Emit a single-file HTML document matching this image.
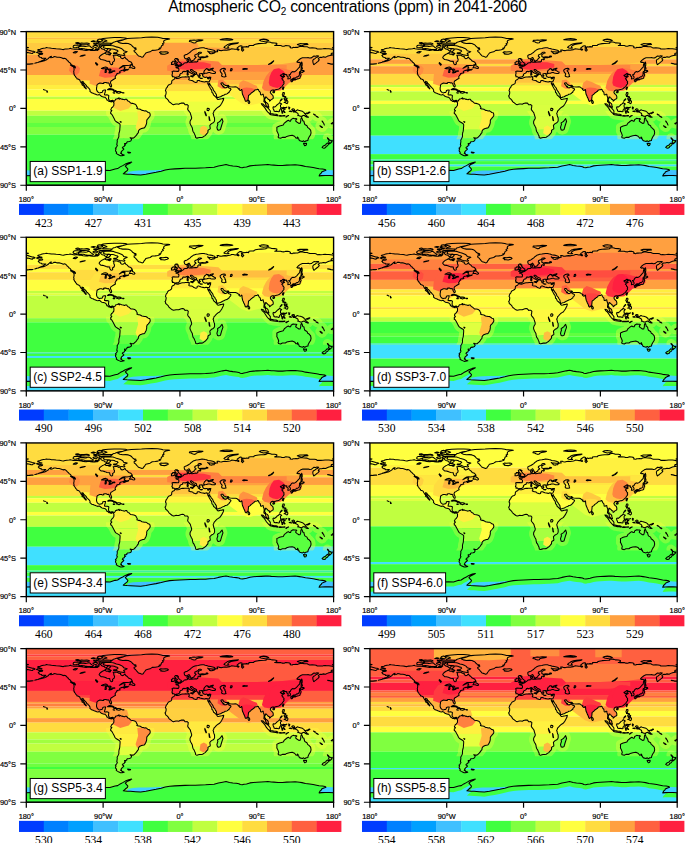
<!DOCTYPE html>
<html><head><meta charset="utf-8"><style>
html,body{margin:0;padding:0;background:#fff;width:685px;height:843px;overflow:hidden}
svg text{font-family:"Liberation Sans",sans-serif}
.ax{font-size:7.4px;fill:#000;stroke:#000;stroke-width:0.18px}
.pl{font-size:12.0px;fill:#000}
.cb{font-family:"Liberation Serif",serif !important;font-size:11.6px;fill:#000}
.title{font-size:15.8px;letter-spacing:-0.25px;fill:#000}
</style></head><body>
<svg width="685" height="843" viewBox="0 0 685 843" style="display:block">
<defs>
<clipPath id="lc"><path id="landp" d="M-168,-65.6 -166.5,-66.3 -164.5,-66.6 -162.5,-66.1 -161.6,-66.5 -163.8,-67.2 -165.5,-67.9 -166.7,-68.3 -166.2,-68.9 -163.5,-69.4 -162.5,-70 -160,-70.6 -157.5,-70.9 -156.6,-71.3 -155,-71 -152.5,-70.8 -150.5,-70.4 -148,-70.3 -145,-70 -141,-69.7 -138.5,-69.2 -136.5,-68.9 -134.5,-69.5 -132.5,-69.7 -130,-70 -128,-70.4 -127.2,-70 -125,-69.5 -123.5,-69.4 -121,-69.7 -118,-69.1 -115.5,-68.9 -113.5,-68.4 -110,-68 -108,-68.2 -106.5,-68.6 -104.5,-68 -102,-67.8 -99.5,-67.8 -98,-68.3 -96.5,-68 -95.5,-68.9 -94.5,-69.8 -95.5,-71 -94.5,-71.9 -93,-71.5 -92,-70.2 -91,-69.5 -88.5,-68.9 -88,-68 -86.5,-67.3 -85,-68.5 -85,-69.8 -83,-70 -81.5,-69.3 -81.3,-68.5 -82.5,-67.5 -83.5,-66.5 -85.7,-66.5 -86.5,-66 -87.5,-65.2 -89.5,-64 -90.8,-63.5 -92.5,-62.3 -94,-61 -94.7,-59.5 -94.2,-58.8 -92.5,-57.2 -90.5,-57.1 -88,-56.4 -85.5,-55.3 -82.3,-55.1 -82.2,-53.5 -81.5,-52.3 -80.5,-51.3 -79.3,-51.6 -78.7,-52.5 -79,-54 -77,-55.5 -76.6,-57.5 -77.5,-59 -77.4,-60.5 -78.2,-62.2 -76,-62.4 -73.5,-62.3 -71.5,-61.2 -69.5,-61 -69.5,-59.5 -67.8,-58.3 -66,-58.8 -64.5,-60.3 -63.5,-58.5 -61.7,-57.3 -60.2,-55.5 -57.5,-54.5 -56,-52.6 -57,-51.5 -59,-50.6 -62,-50.2 -64.5,-50.3 -66.5,-50.2 -68.5,-49 -70,-47.8 -71,-47 -69,-48 -67,-49.1 -64.5,-48.9 -64.3,-48 -65.3,-47.2 -64.6,-46.2 -63,-45.8 -61.5,-45.6 -60,-46 -61,-45.1 -63.5,-44.6 -65.5,-43.6 -66.2,-44.2 -64.5,-45.3 -66,-45.2 -67.2,-44.6 -68.8,-44.3 -70.2,-43.6 -70.8,-42.6 -70,-41.8 -71,-41.5 -72.5,-41.3 -74,-40.7 -74.1,-39.6 -75,-38.8 -75.4,-38 -76,-37 -75.5,-35.2 -76.5,-34.7 -78,-33.8 -79.3,-33 -80.7,-32.2 -81.4,-30.7 -81.2,-29.5 -80.5,-28 -80,-26.5 -80.4,-25.2 -81.2,-25.2 -81.8,-26.1 -82.7,-27.7 -82.8,-29 -84,-30 -85.3,-29.7 -86.5,-30.4 -88,-30.4 -89.5,-30.2 -89.2,-29.2 -90.5,-29.1 -92,-29.6 -93.8,-29.7 -95,-29.2 -96.8,-28.2 -97.3,-27 -97.4,-25.5 -97.7,-24 -97.7,-22.2 -97.2,-20.6 -96.2,-19.2 -95,-18.5 -94.3,-18.2 -92.5,-18.6 -91.3,-18.7 -90.5,-19.8 -90.4,-21 -88.5,-21.5 -87,-21.5 -87.5,-20 -87.6,-19 -88.2,-17.5 -88.4,-16 -87.5,-15.8 -85.5,-15.9 -84,-15.5 -83.3,-15 -83.6,-13 -83.7,-11.5 -83.4,-10.5 -82.3,-9.3 -81,-8.9 -80,-9.3 -79,-9.5 -77.5,-8.7 -76.8,-8.5 -76,-9.4 -75.5,-10.5 -74.8,-11 -73.3,-11.3 -72.2,-11.9 -71.3,-12.4 -71.8,-11.5 -71,-10.8 -70.2,-11.6 -69.5,-11.5 -68.3,-10.9 -66.5,-10.6 -65,-10.1 -63.8,-10.7 -62.4,-10.7 -62,-10 -60.9,-8.6 -59.8,-8.3 -58.5,-7 -57.5,-6.1 -55.5,-5.9 -54,-5.6 -52.5,-5 -51.5,-4.2 -51,-3 -50.3,-1.8 -49.9,-1 -50.5,-0 -48.8,0.7 -48,0.7 -46.5,1 -44.5,2.3 -43,2.5 -41.5,2.9 -40,2.8 -38.5,3.7 -37.2,4.8 -35.5,5.2 -35,6.5 -34.8,7.8 -35.2,9.2 -36.3,10.5 -37.3,11.7 -38.5,13 -39,14.5 -38.9,16 -39.2,17.7 -39.7,19.5 -40.3,20.5 -41,22 -42,23 -43.5,23.1 -45,23.6 -46.8,24.3 -48,25.5 -48.6,26.5 -48.7,28.3 -49.8,29.5 -50.7,31 -52,32.5 -53.4,33.8 -54.2,34.6 -55.5,34.8 -56.8,34.6 -58.4,34.3 -57.2,35.5 -56.7,36.4 -57.5,38 -59,38.7 -61.5,39 -62.3,39.8 -62.2,40.6 -63.5,41.1 -65,41 -64.6,42.3 -63.6,42.7 -64.8,43 -65.3,44.5 -66.8,45.1 -67.5,46.2 -66,47.2 -65.8,47.9 -67.3,49.2 -68.4,50.2 -69.1,51.6 -68.4,52.4 -69.5,52.6 -68.6,53 -67.5,54 -65.3,54.7 -66.5,55 -68,55.3 -69.5,55.4 -71.5,54.5 -73,53.8 -74.6,52.7 -74.2,51.5 -75.3,50 -75.5,48.6 -74.8,47.5 -75.6,46.6 -74.5,45.5 -73.8,44.3 -73.3,43.2 -74,42.5 -73.8,41.2 -73.6,40 -73.4,38.5 -73.6,37.2 -72.7,35.6 -71.8,33.9 -71.5,32.5 -71.6,30.5 -71.3,28.5 -70.8,27 -70.5,25.5 -70.4,23.5 -70.2,21.5 -70.1,19.5 -70.3,18.3 -71.5,17.4 -73,16.5 -75,15.3 -76.2,13.9 -76.8,12.5 -77.6,11 -78.5,9.3 -79.5,7.5 -80.2,6.5 -81.2,6 -81,5 -81.3,4.3 -80.3,3.4 -79.8,2.5 -80.5,2.4 -81,1.2 -80.3,-0 -80,-0.8 -79,-1.3 -78.6,-2 -77.5,-3.5 -77.4,-4.5 -77.3,-6 -77.5,-7 -78.2,-7.5 -78.5,-8.2 -79.5,-8.5 -80.3,-7.5 -81,-7.7 -81.7,-8.1 -82.9,-8.2 -83.6,-8.6 -84.7,-9.7 -85.7,-9.9 -85.8,-11 -86.8,-12.2 -87.6,-13 -88.5,-13.2 -89.8,-13.5 -91.4,-13.9 -92.5,-14.6 -93.5,-15.6 -94.5,-16.2 -96,-15.7 -97.5,-16 -98.8,-16.6 -100.5,-17.2 -101.8,-17.9 -103.5,-18.3 -104.4,-19.1 -105.5,-20 -105.3,-21.2 -105.6,-22.1 -106.4,-23.2 -107.5,-24.3 -108.2,-25.2 -109.2,-25.6 -109.5,-26.7 -110.6,-27.9 -111.3,-28.6 -112.2,-29.3 -112.8,-30.3 -113.1,-31.2 -114.2,-31.5 -114.8,-31.8 -114.7,-30.9 -114.3,-29.8 -113.3,-28.8 -112.8,-27.8 -112,-26.7 -111.4,-25.8 -110.9,-24.7 -110.3,-24.2 -109.8,-23.6 -109.9,-22.9 -110.5,-23.3 -111.2,-24.2 -112.1,-24.8 -112.3,-26 -113.5,-26.7 -114.3,-27.3 -115,-27.8 -114.2,-28.2 -114.5,-29 -115.6,-29.8 -116,-30.5 -116.7,-31.6 -117.2,-32.6 -117.4,-33.3 -118.4,-33.9 -119.5,-34.4 -120.6,-34.6 -120.8,-35.5 -121.9,-36.5 -122.4,-37.2 -122.6,-37.9 -123,-38.2 -123.7,-39 -123.8,-39.8 -124.4,-40.4 -124.1,-41.2 -124.3,-42.2 -124.5,-43 -124.1,-44.5 -124,-46 -124.1,-47 -124.7,-48.4 -123.2,-48.2 -122.5,-47.5 -122.6,-48.8 -123.2,-49.3 -124,-50 -125.2,-50.4 -126.5,-51 -127.7,-51.6 -127.9,-52.5 -128.9,-53.5 -130.2,-54.3 -130.5,-55.2 -131.8,-55.9 -132.5,-57 -133.8,-58.2 -134.5,-58.6 -135.8,-58.9 -136.6,-58.3 -138,-59 -139.7,-59.6 -141.5,-60 -143.9,-60 -145.8,-60.6 -147.5,-60.7 -148.6,-60 -149.8,-59.6 -151.3,-59.3 -151.7,-59.9 -150.5,-61 -151.5,-60.9 -152.6,-60.1 -153.6,-59.2 -154.3,-58.3 -155.6,-57.6 -156.8,-56.8 -158.5,-56 -160,-55.6 -161.9,-55.1 -163.4,-54.8 -164.8,-54.5 -163.5,-55.1 -162,-55.8 -160.5,-56.3 -159,-57.3 -157.8,-58.1 -157.2,-58.8 -158.6,-58.8 -160,-58.7 -161.7,-58.6 -162.2,-59.6 -163.8,-59.9 -165,-60.5 -165.2,-61.3 -166,-61.8 -165.2,-62.6 -164.5,-63.2 -163,-63.1 -161.2,-63.5 -160.8,-64.3 -161.6,-64.5 -163.5,-64.6 -165.5,-64.5 -166.5,-65.1 -168,-65.6ZM-73,-78.2 -71,-79 -67.5,-80 -64.5,-81 -61.5,-81.8 -57,-82.2 -50,-82.5 -45,-82.8 -40,-83.3 -33,-83.6 -26,-83.3 -22,-82.6 -20,-82 -14,-81.8 -12,-81.4 -16.5,-80.5 -18.5,-79.5 -19.2,-78 -18.6,-76.8 -20.5,-75.8 -19.5,-74.5 -21.5,-73.5 -22,-72.3 -22.3,-71 -24.5,-70.4 -23,-69.8 -26,-68.7 -29,-68.2 -32.5,-68 -35,-66.3 -37.5,-65.7 -40,-65 -41,-63.5 -42.2,-62 -43,-60.5 -44.5,-60 -46,-60.7 -48.5,-61.4 -49.7,-62.7 -50.8,-64 -52,-65.5 -53.5,-66.5 -53.8,-68 -52,-68.7 -51.2,-69.5 -53.5,-70.4 -51.5,-70.8 -54,-71.5 -55.5,-72.5 -56.5,-73.8 -58,-75 -60.5,-76 -63.5,-76.3 -67,-76.1 -70.5,-76.8 -72,-77.6 -73,-78.2ZM-89.5,-73.5 -86,-73.7 -82,-73.8 -78.5,-73.5 -76.5,-72.8 -74.5,-72.1 -71.5,-71.3 -69.5,-70.5 -68,-69.8 -66.7,-68.8 -66,-67.5 -63,-66.8 -61.8,-66.5 -63.5,-65.6 -65,-65 -66,-64.3 -65.3,-63.3 -64.5,-62.5 -65.5,-61.9 -67.8,-62.4 -70.5,-62.8 -72.5,-63.5 -74,-64.2 -76,-64.2 -77.8,-64.5 -77.5,-65.3 -74.5,-65.5 -73.5,-66.3 -72.5,-67.2 -73.5,-68.2 -75.5,-68.6 -77,-69.4 -79,-69.7 -81.5,-69.9 -84,-70.2 -86.5,-70.2 -88.5,-70.7 -89.8,-71.5 -89,-72.5 -89.5,-73.5ZM-90.5,-76.5 -86,-76.4 -82,-76.3 -79,-76.3 -78.5,-77.3 -76,-78 -74,-78.8 -71,-79.6 -67,-80.3 -64,-81.2 -62,-82 -64,-82.6 -70,-83 -77,-83 -84,-82.6 -90,-82 -92,-81.2 -89,-80.5 -87,-79.8 -85.5,-79 -88,-78.3 -90,-77.6 -90.5,-76.5ZM-97,-79.5 -94.5,-78.5 -92,-78.6 -90.5,-79.3 -92,-80.3 -93.5,-81.3 -96,-80.8 -97,-79.5ZM-96,-75.5 -93,-74.8 -89,-74.5 -85,-74.5 -81,-74.6 -80.3,-75.5 -82,-76.3 -86,-76.5 -89,-76.3 -92,-76.5 -95,-77 -96.3,-76.3 -96,-75.5ZM-119,-71 -117.5,-70 -115,-70.2 -113,-70 -111,-69.5 -108,-69 -105,-69 -102,-69.2 -101.3,-70 -103,-71 -104.5,-72 -105.5,-73 -107,-73.5 -109,-72.8 -111,-72.5 -113,-72.8 -115.5,-72.9 -117.5,-72.6 -118.5,-71.8 -119,-71ZM-125.2,-71.9 -124,-71 -121.5,-71.3 -119.5,-71.9 -117.7,-72.7 -115.5,-73.3 -117,-74 -120,-74.3 -123.5,-74.1 -124.8,-73.4 -125.2,-71.9ZM-117.5,-75.5 -115,-74.6 -111.5,-74.6 -108.5,-74.9 -106,-75.5 -106.5,-76.1 -109,-76.7 -112.5,-76.3 -115.5,-76.5 -117.5,-76.1 -117.5,-75.5ZM-122,-76.3 -119.5,-75.8 -117.5,-76.5 -119.5,-77.3 -122,-76.9 -122,-76.3ZM-101,-75.6 -98.5,-75 -97,-75.7 -98,-76.5 -101,-76.3 -101,-75.6ZM-104,-78.5 -101,-78 -99,-78.8 -101.5,-79.3 -104,-78.5ZM-97.5,-77.8 -95.5,-77.8 -95.5,-78.5 -97.5,-78.5 -97.5,-77.8ZM-102,-72.8 -101,-72 -98.5,-71.5 -97,-72.2 -96.5,-73.3 -98,-73.9 -100.5,-73.6 -102,-72.8ZM-95,-73 -93.5,-72.1 -92,-72.5 -90.5,-73.5 -92,-74 -94.5,-74 -95,-73ZM-99.5,-68.9 -98,-68.3 -96.5,-68.5 -96,-69.5 -97.5,-69.8 -99,-69.5 -99.5,-68.9ZM-87.5,-64.2 -86,-63.5 -84,-63.8 -81.5,-63.8 -80.5,-64.5 -82,-65.3 -84,-65.9 -86,-66.3 -87.2,-65.3 -87.5,-64.2ZM-83.5,-62.9 -82,-62.6 -81.5,-63 -82.5,-63.4 -83.5,-62.9ZM-59.3,-47.6 -56.2,-47.6 -55.5,-47 -53.5,-46.7 -52.7,-47.5 -53.3,-48.5 -54.5,-49.5 -55.8,-49.8 -55.6,-51.5 -56.8,-51.4 -58,-49.8 -58.7,-48.6 -59.3,-47.6ZM-128.3,-50.8 -127,-50 -125.5,-49 -123.8,-48.4 -123.5,-48.9 -124.8,-49.6 -126,-50.4 -127.5,-50.9 -128.3,-50.8ZM-84.9,-21.9 -83.5,-22.9 -82,-23.2 -80.5,-23.1 -78.5,-22.4 -77.2,-21.6 -75.7,-21.1 -74.2,-20.2 -75.5,-19.9 -77.5,-19.9 -77.6,-20.5 -78.5,-21.5 -80.5,-22 -82,-22.3 -83.5,-21.8 -84.9,-21.9ZM-74.4,-18.5 -73,-19.9 -71.5,-19.9 -69.5,-19.6 -68.4,-18.6 -69.9,-18.4 -71.4,-17.7 -72.8,-18.2 -74.4,-18.5ZM-78.3,-18.4 -76.3,-18.2 -76.6,-17.9 -78,-18 -78.3,-18.4ZM-67.2,-18.5 -65.6,-18.4 -65.7,-18 -67.1,-18 -67.2,-18.5ZM-24,-65.5 -22.5,-66.4 -20,-66.1 -16.5,-66.5 -14.5,-66.2 -13.5,-65.2 -15,-64.3 -18,-63.4 -20.5,-63.6 -22.6,-63.8 -22,-64.5 -24,-65.5ZM-5,-58.6 -3,-58.6 -3.8,-57.7 -1.8,-57.6 -2.5,-56.3 -1.6,-55.6 -1.2,-54.6 -0.2,-54 0.3,-53.4 1.7,-52.7 1.5,-51.9 0.9,-51.4 1.4,-51.2 0.2,-50.8 -1.5,-50.7 -3.5,-50.3 -5.7,-50 -4.3,-51.2 -3,-51.5 -5.2,-51.7 -4.1,-52.3 -4.7,-52.8 -3.1,-53.3 -2.9,-54 -3.6,-54.5 -4.9,-54.7 -4.9,-55.7 -5.7,-55.3 -5.6,-56.5 -6.2,-57.4 -5,-58.6ZM-6.2,-55.2 -5.5,-54.4 -6.1,-53.9 -6,-52.2 -6.5,-52.1 -8.2,-51.6 -10,-51.6 -9.8,-53 -10.1,-53.9 -8.6,-54.3 -8.5,-55.2 -7.2,-55.3 -6.2,-55.2ZM8.4,-41 9.5,-41.2 9.8,-40 9.5,-39.1 8.5,-39 8.4,-40 8.4,-41ZM8.6,-42.9 9.4,-43 9.5,-42 9.2,-41.4 8.6,-41.8 8.6,-42.9ZM12.4,-38 13.5,-38.2 15.6,-38.3 15.1,-37.3 15.1,-36.7 14.3,-37 12.4,-37.6 12.4,-38ZM23.5,-35.6 25,-35.4 26.3,-35.3 25.8,-35 24,-35.1 23.5,-35.6ZM32.3,-35 33,-35.4 34.6,-35.7 34,-35 33,-34.6 32.3,-35ZM11,-78.5 11.5,-79.7 14,-79.8 16.5,-80 18.5,-79.9 22,-80.5 27,-80.2 25,-79.4 21,-78.7 19,-78 18.5,-77 16.5,-76.6 14.5,-77.3 13,-78.2 11,-78.5ZM51.5,-71.6 53,-73 54.5,-73.8 56,-75 58.5,-75.8 62,-76.3 65.5,-76.7 68.5,-76.9 67,-76.1 63,-75.5 60,-74.8 58,-74 56.5,-73 56,-71.8 57.5,-70.7 55,-70.6 53,-70.9 51.5,-71.6ZM47,-80.5 52,-80.1 58,-80 62,-80.6 60,-81.3 55,-81.8 50,-81.4 47,-80.5ZM95,-79 98,-78.3 101.5,-78.9 104,-79.5 102,-80.6 98,-81.2 95,-80.8 93,-80 95,-79ZM137.5,-75 140,-74 142.5,-73.3 146,-74.7 150,-75 149,-76 144,-75.8 140.5,-75.9 137.5,-75ZM178.6,-71.1 180,-70.8 180,-71.55 178.6,-71.1ZM-180,-70.8 -178,-71 -177.5,-71.3 -180,-71.55 -180,-70.8ZM-180,-68.9 -178,-68.5 -175,-67.6 -173,-67 -171.5,-66.9 -169.7,-66.1 -170.8,-65.5 -172.2,-65.3 -172.8,-64.4 -174.5,-64.6 -176,-65 -178.5,-65.6 -180,-65.3 -180,-68.9ZM142,-46.2 143.5,-46.2 143.3,-47.5 142.7,-49 143.2,-50.5 143.2,-52.5 143,-53.5 142.6,-54.4 142.3,-53.3 141.7,-51.5 142,-49.5 142,-48 141.9,-47 142,-46.2ZM140,-41.5 141.3,-41.8 141.7,-42.6 143.3,-42 144.5,-43 145.5,-43.3 145.3,-44.3 143.3,-44.3 141.7,-45.4 141.6,-44 141.3,-43.2 140.4,-43.3 140,-42.5 140,-41.5ZM141.4,-41.4 141.5,-40.4 142,-39.5 141.5,-38.3 141,-37.5 140.8,-36.5 140.7,-35.5 139.8,-35 139,-34.8 137.5,-34.6 136.8,-34.3 135.5,-33.5 135.2,-34.5 133.5,-34.4 132,-34 130.9,-34 131.5,-34.6 133,-35.5 135.5,-35.7 136.5,-36.8 137.3,-37 137.5,-36.8 138.5,-37.4 139.5,-38.3 140,-39.5 139.9,-40.5 140.5,-41.3 141.4,-41.4ZM130.9,-33.9 131.6,-33.2 131.9,-32 131.1,-31.2 130.3,-31.3 130.2,-32.5 129.6,-33.3 130.9,-33.9ZM132.5,-33 133,-34 134.5,-34.2 134.7,-33.8 133.8,-33.3 132.5,-33ZM121,-25.1 121.9,-24.9 121.6,-24 120.9,-22 120.2,-22.7 120.1,-23.5 120.6,-24.5 121,-25.1ZM108.7,-19.3 110.2,-20.1 111,-19.6 110.4,-18.4 109.2,-18.3 108.7,-19.3ZM120.6,-18.5 122.2,-18.5 122.3,-17 121.6,-15.8 121.6,-14.5 122.5,-14.2 124,-13.8 124.1,-12.6 123,-13 121.8,-13.9 120.6,-13.9 120.6,-14.8 119.8,-16 120.3,-16.6 120.6,-18.5ZM122,-7 123.5,-7.8 124.2,-8.2 125.5,-9.6 126.5,-8 126.2,-6.5 125.4,-5.6 124,-6.3 123,-7.3 122,-7ZM122,-11.8 123.2,-11 124.5,-11.3 125.5,-11.8 125,-10.2 124,-9.7 123,-9.2 122.4,-10.4 122,-11.8ZM117.2,-8.4 118.5,-9.5 119.7,-10.7 119.5,-11.3 118.2,-10 117.2,-8.4ZM79.8,-9.8 80.8,-9.2 81.8,-7.5 81.5,-6.2 80.6,-5.9 80,-6.7 79.8,-8 79.8,-9.8ZM95.3,-5.6 97.5,-5.2 98.8,-3.6 100.5,-2 101.8,-1.6 103.5,-0 104.4,1 105.9,3 105.8,5.8 104.6,5.9 103,4.3 101.5,2.6 100.4,0.8 99,-1.3 98,-2.5 96.5,-3.8 95.3,-5.6ZM105.2,6.8 106,5.9 108.3,6.3 110.5,6.9 112.6,6.9 114.6,7.8 114.4,8.7 112,8.3 110,8.1 108,7.7 106.4,7.4 105.2,6.8ZM109,-1.5 109.7,-2 111,-1.6 113,-3.2 114,-4.5 115.5,-5.3 116.8,-6.9 117.7,-6 119.2,-5.2 118.2,-4.5 117.7,-3.5 117.9,-1.3 119,-0.9 118,-0 117.5,1 116.5,2 116.5,3.5 115.5,3.9 114.5,3.5 113,3.2 111.6,3.5 110.2,2.9 110,1.7 109.2,0.3 109,-1.5ZM119.6,5.5 120.4,5.6 120.3,3 121,2.7 122.3,4.8 123.2,4.7 122,3 121.5,1.8 122.7,0.8 123.3,1 121.6,0.6 120.2,-0.4 121.5,-0.5 123,-0.6 124.5,-0.8 125.2,-1.5 124.5,-1.2 122.5,-1 120.8,-1.3 120,-0.7 119.8,0.3 119,1 118.8,2.6 119.4,3.5 119.6,5.5ZM131,1.3 132.5,0.4 134,0.9 134.2,2.8 135.5,3.3 137.5,1.6 139,2.1 141,2.6 143.5,3.4 145.5,4.9 145.8,5.8 147.6,6.2 147,7.3 148.2,8.3 149.2,9.3 150.6,10.3 149,10.3 147.2,9.5 145.5,8 143.5,8.6 143,9.3 141,9.2 139,8.2 138,8.4 138.6,7.1 138,5.7 136,4.6 134,3.8 132.8,4.1 132,2.8 133.6,2.5 132,2 131,1.3ZM124,10 125.3,9 127.3,8.4 126,9 124.5,10.2 124,10ZM116,8.5 117.5,8.3 119,8.5 121,8.4 123,8.2 122.8,8.7 120.5,8.8 118,9 116,8.9 116,8.5ZM127.5,-1.8 128,-0.5 128.7,-1.3 128.2,0.7 127.5,0.3 127.5,-1.8ZM128,3.2 130,2.9 130.8,3.8 129,3.6 128,3.2ZM113.5,22 114.1,21.8 116.7,20.6 119,20 121,19.5 122.3,17.2 123.6,16.2 125,15 126.9,13.9 128.4,14.9 129.6,14.9 130.2,13 131.5,12.2 132.6,11.6 134.5,12 136,11.9 136.9,12.4 135.9,13.4 135.6,14.8 137,15.9 139.3,17.5 140.8,17.4 141.5,15 141.6,12.5 142.5,10.7 143.5,12.8 143.8,14.4 145.3,15 145.5,16.5 146.3,18.9 148.8,20.3 149.7,22.5 150.8,23 153.1,25.5 153.6,28.5 153,31 151.3,33.5 150.1,36 149.9,37.5 147.5,38 146.3,39.1 144.9,37.9 143.5,38.8 140.5,38 139.6,37.2 139.3,35.8 138.1,35.6 138.5,34.5 137.8,33.4 137.5,34.7 136,34.8 135.2,33.8 134.2,32.6 131.5,31.5 128,32 125,32.8 123.5,33.9 120,33.9 118,35 115.5,34.4 115,33.5 115.7,31.5 115,29.5 114.3,27.8 113.5,26.5 113.6,24.5 113.5,22ZM144.7,40.7 146.5,41.1 148.3,40.9 148.2,42.2 147.5,43.3 146.1,43.6 145.2,42.3 144.7,40.7ZM172.7,34.4 174,35.3 174.8,36.8 175.9,37.2 177,38 178.5,37.7 177.9,39.2 176.8,40.2 175.2,41.6 174.6,41.2 175.2,40.3 174,39.2 174.6,38 174.5,37 173,35.3 172.7,34.4ZM172.6,40.5 174.2,41.3 173.9,42.3 172.8,43.8 171.2,44.5 170.7,45.9 169,46.6 167.5,46.3 166.5,45.5 168,44 170.5,42.8 171.5,41.6 172.6,40.5ZM49.3,12 50.4,15.3 49.8,17 48.8,20 47.5,24.5 47.1,25 45.2,25.5 44,25 43.3,22.5 43.8,20.5 44.4,19 44,17 45.5,16 47,15 48,13.6 49.3,12ZM-61.3,51.2 -59.5,51.3 -57.8,51.6 -58.5,52.2 -60.5,52.2 -61.3,51.2ZM-180,90 -180,78.8 -170,78.6 -162,78.3 -158,77.6 -155,77 -150,76.5 -145,75.8 -140,75.2 -135,74.6 -130,74.3 -125,74 -120,74 -115,74.2 -110,74.5 -105,74.3 -100,73.6 -95,73 -88,72.6 -82,72.8 -76,71 -73,70.5 -70,68.5 -67,67 -64,65.2 -60,63.6 -56.5,62.9 -58.5,64.2 -62,65.8 -64,67.7 -61,71 -61.5,72.5 -64,74.5 -66.4,76.6 -62,77 -58,77.2 -52,77.6 -46,77.9 -40,77 -34,75.9 -28,74.8 -22,73.5 -17.3,72.2 -12,71.3 -6,70.8 0,70.5 6,70.2 12,70 18,70 24,69.8 30,69.6 35,69.2 40,68.8 45,67.5 50,66.5 54,65.8 58,66.8 62,67.4 66,67.8 69,68.3 70.7,69.2 73,69.5 75,69 78,68.5 82,67.3 86,66.8 90,66.5 95,66.3 100,66 103,65.8 107,66.3 110,66.4 115,66.8 120,66.8 125,66.4 130,66.2 135,66 140,66.6 143,67 147,68 152,68.6 156,69.2 160,70 163,70.6 167,71 170,71.5 171,72.3 168,73.5 166,74.5 165.8,75.4 164,77 163,79 166,78.7 170,78.6 175,78.6 180,78.8 180,90ZM-5.6,-36 -6.3,-36.5 -7.4,-37.2 -8.9,-37 -8.8,-38.4 -9.5,-38.8 -8.9,-40.5 -8.8,-42 -9.3,-43 -8,-43.7 -5,-43.5 -3,-43.4 -1.8,-43.4 -1.3,-44.5 -1.2,-46 -2.2,-47.2 -4.5,-47.8 -4.7,-48.5 -3,-48.8 -1.5,-48.7 -1.6,-49.7 -1.2,-49.3 0.2,-49.5 1.5,-50.2 2.5,-51.1 3.5,-51.5 4.3,-52.3 4.8,-53 6.5,-53.4 8,-53.5 8.9,-54 8.6,-55.5 8.1,-56.5 8.6,-57.1 10.5,-57.7 10.3,-56.6 10.9,-56.3 10,-55.5 9.6,-55 10.2,-54.4 11,-54 12.5,-54.4 14,-54 16,-54.3 18.5,-54.7 19.5,-54.4 21,-55.3 21,-56.8 21.6,-57.5 22.6,-57.7 23.5,-57 24.3,-57.3 24.3,-58.3 23.5,-58.9 23.5,-59.3 25,-59.5 28,-59.5 30,-59.9 29,-60.2 26,-60.4 23,-59.9 21.4,-60.8 21.4,-62 21.5,-63.2 24.5,-64.8 25.4,-65 24.5,-65.8 23,-65.8 21.8,-65.5 21.3,-64.5 20,-63.7 18.5,-63 17.5,-62.5 17.3,-61 18.5,-60.2 18.9,-59.5 18,-59 16.7,-57.8 16.5,-56.7 15,-56.2 14.2,-55.4 13,-55.4 12.7,-56.2 11.9,-57.7 11.2,-59 10.6,-59.7 9.5,-59 8,-58.1 6.5,-58.2 5.6,-58.9 5,-60.5 5,-62 6.5,-62.8 8.5,-63.5 10,-64.5 12,-65.8 13,-67 14.5,-68 15.5,-68.8 17.5,-69.5 19,-70 21.5,-70.3 23.5,-70.7 25.8,-71.1 28,-71 29.5,-70.6 31,-70.3 33,-69.5 36,-69.1 38.5,-68.5 40.5,-67.8 41.2,-66.8 40,-66.2 38,-66.1 35.5,-66.4 33.5,-66.6 32.4,-67.1 33.5,-66 34.8,-65 34.7,-64.5 36,-64.2 37.5,-64 38,-64.5 40,-64.6 40.5,-65.5 42.5,-66.4 44.2,-66.5 43.8,-67.5 43.5,-68.5 45.5,-68.5 46.5,-67.9 48.5,-67.7 50.5,-68.2 53,-68.5 54.5,-68.2 56.5,-68.6 58.5,-68.9 60,-69.5 60.6,-69.9 62.5,-69.7 64.5,-69.3 66.5,-69.4 67.3,-68.7 68.5,-68.2 69.2,-68.8 68.5,-69.6 67.2,-70 67,-71 68.5,-72 69.5,-72.9 71,-73.4 72.7,-73 72.8,-72.2 72,-71 72.5,-69.7 72,-68.5 73.3,-67 74,-67.8 74.8,-68.6 73.7,-69.2 73.8,-70.5 73.3,-71.4 75,-72.3 76,-71.9 78,-72.4 80.5,-72 80.8,-73.6 83,-73.8 86.5,-73.8 86.8,-74.6 88.5,-75.3 92,-75.9 95,-76.1 98.5,-76.3 101,-76.5 100.8,-77.2 103,-77.7 104.3,-77.7 106,-77.4 107.5,-76.8 111,-76.7 113.5,-76.2 113.5,-75 112,-74 111,-73.7 113.5,-73.6 115,-73.7 118,-73.6 119.5,-73 122,-72.9 124,-73.7 126.5,-73.5 128.5,-73.1 129.5,-72 129,-71.2 131.5,-70.8 132.5,-71.5 134,-71.4 136,-71.6 138,-71.5 139.5,-72.3 141,-72.7 143.5,-72.7 146,-72.3 149,-72.2 150.5,-71.5 152,-70.9 155,-71 157.5,-70.9 159.5,-70.6 160.8,-69.6 163,-69.7 165,-69.6 167.5,-69.8 170,-70.1 172,-69.9 174.5,-69.9 176.5,-69.6 178.5,-69.3 180,-68.9 180,-65.3 178.5,-64.7 177.5,-64.7 177,-63.2 179,-62.5 177.5,-62.4 174.5,-61.8 172.5,-61 170.5,-60 168,-60.4 166,-59.8 164,-59.8 163,-59.2 162,-58 163.2,-57.2 162.8,-56.3 161.8,-55.2 160.2,-54 159.2,-53.1 158.3,-52.5 157,-51.3 156.5,-51.7 155.8,-54 155.6,-56 156.5,-57.5 157.8,-58 159.5,-59.5 161.5,-60.3 162.5,-61.5 160.5,-61.7 159,-61.2 157,-61.5 155,-60 154,-59.2 152,-59 150.5,-59.5 148.5,-59.3 146,-59.3 143.5,-59.3 141.5,-58.5 140.2,-57.6 138.5,-56.3 137,-54.5 138.5,-53.8 139.5,-54.2 141.3,-53.2 140.6,-51.5 140.4,-50 140.2,-48.5 138.5,-46.8 136.8,-44.8 135.2,-43.5 133.5,-42.8 132.3,-43.2 130.8,-42.4 129.7,-41 129.5,-40 128,-39.5 127.5,-39.3 128.5,-38.3 129.4,-37 129.4,-35.5 129,-35.1 127.5,-34.7 126.4,-34.5 126.5,-35.8 126.8,-36.8 126.5,-37.6 125.5,-37.8 125,-38.5 125.3,-39.5 124.3,-39.9 122.5,-39.5 121.2,-38.8 121.7,-39.8 122.3,-40.6 121,-40.9 120,-40.2 119.2,-39.3 118,-39.2 117.6,-38.6 118.5,-38 119,-37.2 120,-37.5 121.5,-37.8 122.6,-37.3 121.5,-36.7 120.2,-36 119.3,-34.8 120.3,-34.2 120.8,-32.6 121.9,-31.7 121.9,-30.8 121.5,-30.3 122,-29.5 121.5,-28.5 120.7,-27.5 119.7,-26 119,-25.2 118,-24.5 117,-23.6 116,-22.9 114.5,-22.4 113.5,-22.2 112,-21.8 110.6,-21.3 110.2,-20.3 109.7,-21 109.9,-21.5 108.5,-21.6 107,-21 106.5,-20.3 105.8,-19 106.5,-17.5 107.5,-16.5 108.8,-15.3 109.3,-13.5 109.2,-11.7 108.2,-11 106.8,-10.3 106,-9.3 105,-8.6 104.8,-9.8 104.5,-10.5 103.5,-10.6 102.5,-12 101.5,-12.7 100.9,-13.5 100,-13.4 100,-12 99.2,-10.5 99.3,-9.2 100.2,-8.3 100.4,-7 101.5,-6.8 102.5,-6 103.4,-4.8 103.4,-3.5 104,-2.2 104.2,-1.4 103.5,-1.3 102.5,-2 101.3,-2.9 100.6,-4.2 100.3,-5.5 100.2,-6.5 99,-7.5 98.3,-8 98.5,-10 98.7,-11.5 98.5,-13 97.7,-15 97.5,-16.7 96.5,-16.5 95.5,-15.8 94.5,-16 94.3,-17.5 94,-19 93,-19.8 92.3,-21 91.9,-22.3 91,-22.6 90.3,-21.9 89,-21.8 88,-21.6 87,-21 86.8,-20.2 85.5,-19.5 84.5,-18.6 83.5,-18 82.3,-16.6 81.3,-15.9 80.3,-15.2 80.2,-13.5 80,-12 79.8,-10.3 79,-9.5 78.2,-8.9 77.5,-8.1 76.5,-8.9 76,-10.5 75.5,-11.8 74.8,-13 74.3,-14.5 73.5,-16 73,-18 72.8,-19.3 72.7,-20.8 72.6,-21.8 72.2,-22.2 71,-21 70,-21.3 69,-22.3 69.8,-22.8 68.5,-23.5 67.5,-24 66.8,-24.8 65,-25.3 62.5,-25.2 61.6,-25.2 59,-25.4 57.5,-25.7 57,-26.8 56.3,-27.2 55,-26.7 53.5,-26.8 52.5,-27.5 51.5,-27.9 50.8,-28.8 50.3,-29.8 49.5,-30 48.5,-29.9 48,-29.3 48.6,-28.1 49.5,-27.1 50.2,-26.2 50.6,-25 51,-26 51.6,-25.6 51.6,-24.6 52.5,-24.2 54,-24.2 55.5,-25.3 56.3,-26.3 56.4,-24.8 57.5,-23.8 58.8,-23.5 59.8,-22.5 59.3,-21.4 58.5,-20.5 57.8,-19.9 57.7,-19 56.6,-18.3 56,-17.8 55,-17 53,-16.6 52,-15.8 50,-15.1 49,-14.5 47.5,-13.6 46,-13.4 45,-12.8 43.5,-12.7 43.2,-13.3 42.7,-15.5 42.6,-16.5 41.5,-18 40.8,-19.5 39.8,-20.5 39.1,-21.5 38.5,-23.5 37.5,-24.8 36.5,-26 35.7,-27.5 35,-28 34.8,-29.5 34.5,-28.5 34.2,-27.8 33.5,-28.3 32.6,-29.9 32.5,-29.5 32.8,-28.5 33.6,-27.2 34.5,-25.5 35.4,-24 35.8,-23 36.8,-22 37.3,-20.5 37.5,-18.6 38.5,-18 39.5,-15.5 40.5,-14.8 41.5,-13.8 42.4,-12.8 43.3,-12.2 43.3,-11.5 44.5,-10.4 46,-10.7 47.5,-11.1 49,-11.3 50.5,-11.7 51.3,-11.8 51,-10.4 50.8,-9.5 50,-8 49,-6 48,-4.5 46.5,-2.5 45,-1.7 43.5,-0.7 42,0.8 41,2 40,3 39.5,4.5 38.8,6 39.3,7 39.5,8.5 40,10 40.5,11 40.6,14 40.2,15.5 39,16.8 37,17.8 36,18.8 35,19.8 35.2,21.5 35.5,23 35.4,24 34,24.8 32.8,25.8 32.9,27 32.5,28.5 31.5,29.5 30.5,30.8 29.5,31.8 28,32.8 26.5,33.8 25,34 23,34 21.5,34.4 20,34.8 19,34.5 18.4,34.2 18.3,33 18,32 17.3,30.5 16.5,28.6 15.3,27 14.8,25 14.5,22.8 13.5,21 12.5,19 11.8,17.3 11.8,15.5 12.3,14 13.6,12 13.7,10.5 13.2,9 12.4,6.5 12.2,5.5 11.5,4.5 10.5,3.2 9.5,2 9,0.7 9.5,-1 9.6,-2.5 9.8,-3.2 9,-4 8.5,-4.5 7,-4.4 6,-4.3 5.5,-5 4.5,-6.2 3,-6.4 1.5,-6.2 0,-5.7 -1.5,-5 -3,-5.1 -4.5,-5.2 -6,-4.8 -7.5,-4.4 -9,-5 -10.5,-6.2 -11.5,-7 -12.5,-7.7 -13.3,-8.8 -13.8,-9.8 -14.8,-10.8 -15.5,-11.5 -16.7,-12.3 -16.8,-13.5 -17.5,-14.7 -16.8,-15.5 -16.5,-16.5 -16.2,-18 -16.2,-19.5 -17,-20.8 -16.5,-22.3 -16,-23.7 -15,-24.7 -14.5,-26 -13.3,-27.5 -12,-28 -10.5,-28.8 -9.7,-29.8 -9.7,-30.8 -9.5,-32.3 -8.5,-33.3 -7,-33.9 -6.2,-35 -5.9,-35.8 -5.3,-35.9 -4.3,-35.2 -2.5,-35.1 -1.2,-35.4 0,-35.9 1.5,-36.5 3,-36.8 5,-36.8 6.5,-37 8.5,-36.9 9.8,-37.3 10.3,-37 11,-37 10.5,-36.2 11,-35.5 10.7,-34.6 10.2,-34 11,-33.3 12.5,-32.9 13.5,-32.8 15.2,-32.3 15.8,-31.4 17,-31 18.5,-30.4 19.8,-30.7 20.2,-31.5 20,-32.2 21,-32.8 22.5,-32.8 23.5,-32.2 25,-31.7 27,-31.3 29,-30.9 30.5,-31.5 32,-31.2 33.5,-31.1 34.3,-31.3 34.8,-32.3 35,-33 35.5,-34 35.9,-35 35.8,-35.8 36.2,-36.6 35.5,-36.6 34.5,-36.7 33.5,-36.2 32.5,-36.1 31.5,-36.7 30.5,-36.5 29.5,-36.2 28.2,-36.7 27.3,-37 27.2,-37.8 26.5,-38.3 26.8,-39 26.2,-39.5 26.2,-40.1 27.3,-40.4 29,-40.8 29,-41.1 30.5,-41.2 31.5,-41.3 32.5,-41.8 34,-42 35.2,-42 36,-41.5 37.5,-41.1 39,-41 40.5,-41 41.6,-41.6 41.6,-42.6 40.3,-43.1 39,-44 38,-44.4 37.3,-44.9 37.5,-45.4 38.3,-46.1 39.2,-47.1 38.2,-47.1 36.5,-46.6 35.2,-46.2 34.8,-45.8 35.5,-45.3 36.5,-45.4 36,-45 35,-44.8 34,-44.4 33.4,-44.6 33.6,-45.1 32.5,-45.4 33.5,-46 32,-46.5 31,-46.6 30.2,-45.8 29.6,-45.2 28.8,-44.7 28.6,-44 27.9,-42.8 28,-41.9 28.5,-41.3 29,-41.1 28,-41 26.6,-40.6 26,-40.8 25,-40.9 23.8,-40.7 22.9,-40.6 22.6,-40 23.2,-39.2 22.6,-38.8 24,-38.2 23.3,-37.8 22.8,-37 23,-36.5 22.4,-36.5 21.7,-36.8 21.3,-37.6 21.5,-38.2 21,-38.8 20.3,-39.3 20,-39.8 19.4,-40.3 19.5,-41.3 19.5,-41.9 18.6,-42.4 17.5,-43 16.3,-43.5 15.3,-44.2 14.8,-45 14.2,-45.3 13.7,-45.6 12.5,-45.5 12.3,-44.8 12.4,-44.2 13.5,-43.6 14.1,-42.6 15.2,-41.9 16,-41.9 17.3,-40.9 18.5,-40.2 18.3,-39.8 17.2,-40.4 16.6,-39.7 17.1,-39 16.5,-38.6 16.1,-38 15.7,-37.9 15.7,-38.7 16,-39.4 15.6,-40.1 14.7,-40.6 14.1,-40.8 13,-41.3 12.2,-41.8 11.2,-42.4 10.5,-43 10.3,-43.7 9.8,-44.1 8.7,-44.4 8,-43.9 7.3,-43.7 6.2,-43.1 4.8,-43.4 3.5,-43.3 3.1,-42.5 3.2,-41.9 2,-41.2 1,-41 0.3,-40.3 -0.3,-39.5 0.1,-38.8 -0.5,-38.3 -0.8,-37.6 -1.7,-37.2 -2.2,-36.7 -3.5,-36.7 -4.5,-36.6 -5,-36.4 -5.6,-36ZM-166.5,-53.9 -165.5,-54.2 -164.8,-54.6 -165.8,-54.1ZM-170,-52.9 -168,-53.4 -167.5,-53.6 -169.5,-53.1ZM-176.5,-51.9 -174,-52.1 -172,-52.3 -174,-52.3 -176.5,-52.1ZM-180,-51.7 -178,-51.8 -177,-51.9 -178,-52 -180,-51.9ZM173,-52.8 175,-52.5 177,-51.9 180,-51.7 180,-51.9 177,-52.1 175,-52.7 173,-53ZM-156,-20.9 -155,-19.2 -155.8,-19 -156,-20ZM-158.3,-21.6 -157.7,-21.3 -158.1,-21.3ZM-159.8,-22.2 -159.3,-22 -159.6,-21.9ZM148.3,5.5 150,5 151.5,4.2 152.3,4.5 151,5.5 149.5,6.2 148.3,5.5ZM156.5,6.6 158,7.3 159,8 157.5,7.6 156.5,6.6ZM159.5,9.2 161,9.5 162,10.5 160.5,9.9 159.5,9.2ZM166.5,14.8 167.3,15.5 167.8,16.5 168.5,17.7 169.2,19.5 168.2,17 166.9,15.8 166.5,14.8ZM164,20.2 165.5,21 167,22.2 166.3,22.4 164.5,21 164,20.2ZM177.3,17.5 178.5,17.3 178.4,18.2 177.3,18 177.3,17.5ZM178.8,16.5 180,16.2 180,16.9 178.8,16.9Z" vector-effect="non-scaling-stroke"/></clipPath>
<clipPath id="shc"><rect x="-180" y="3" width="360" height="33"/></clipPath>
<g id="coast" fill="none" stroke="#000" stroke-width="1.05" stroke-linejoin="round">
<path d="M-168,-65.6 -166.5,-66.3 -164.5,-66.6 -162.5,-66.1 -161.6,-66.5 -163.8,-67.2 -165.5,-67.9 -166.7,-68.3 -166.2,-68.9 -163.5,-69.4 -162.5,-70 -160,-70.6 -157.5,-70.9 -156.6,-71.3 -155,-71 -152.5,-70.8 -150.5,-70.4 -148,-70.3 -145,-70 -141,-69.7 -138.5,-69.2 -136.5,-68.9 -134.5,-69.5 -132.5,-69.7 -130,-70 -128,-70.4 -127.2,-70 -125,-69.5 -123.5,-69.4 -121,-69.7 -118,-69.1 -115.5,-68.9 -113.5,-68.4 -110,-68 -108,-68.2 -106.5,-68.6 -104.5,-68 -102,-67.8 -99.5,-67.8 -98,-68.3 -96.5,-68 -95.5,-68.9 -94.5,-69.8 -95.5,-71 -94.5,-71.9 -93,-71.5 -92,-70.2 -91,-69.5 -88.5,-68.9 -88,-68 -86.5,-67.3 -85,-68.5 -85,-69.8 -83,-70 -81.5,-69.3 -81.3,-68.5 -82.5,-67.5 -83.5,-66.5 -85.7,-66.5 -86.5,-66 -87.5,-65.2 -89.5,-64 -90.8,-63.5 -92.5,-62.3 -94,-61 -94.7,-59.5 -94.2,-58.8 -92.5,-57.2 -90.5,-57.1 -88,-56.4 -85.5,-55.3 -82.3,-55.1 -82.2,-53.5 -81.5,-52.3 -80.5,-51.3 -79.3,-51.6 -78.7,-52.5 -79,-54 -77,-55.5 -76.6,-57.5 -77.5,-59 -77.4,-60.5 -78.2,-62.2 -76,-62.4 -73.5,-62.3 -71.5,-61.2 -69.5,-61 -69.5,-59.5 -67.8,-58.3 -66,-58.8 -64.5,-60.3 -63.5,-58.5 -61.7,-57.3 -60.2,-55.5 -57.5,-54.5 -56,-52.6 -57,-51.5 -59,-50.6 -62,-50.2 -64.5,-50.3 -66.5,-50.2 -68.5,-49 -70,-47.8 -71,-47 -69,-48 -67,-49.1 -64.5,-48.9 -64.3,-48 -65.3,-47.2 -64.6,-46.2 -63,-45.8 -61.5,-45.6 -60,-46 -61,-45.1 -63.5,-44.6 -65.5,-43.6 -66.2,-44.2 -64.5,-45.3 -66,-45.2 -67.2,-44.6 -68.8,-44.3 -70.2,-43.6 -70.8,-42.6 -70,-41.8 -71,-41.5 -72.5,-41.3 -74,-40.7 -74.1,-39.6 -75,-38.8 -75.4,-38 -76,-37 -75.5,-35.2 -76.5,-34.7 -78,-33.8 -79.3,-33 -80.7,-32.2 -81.4,-30.7 -81.2,-29.5 -80.5,-28 -80,-26.5 -80.4,-25.2 -81.2,-25.2 -81.8,-26.1 -82.7,-27.7 -82.8,-29 -84,-30 -85.3,-29.7 -86.5,-30.4 -88,-30.4 -89.5,-30.2 -89.2,-29.2 -90.5,-29.1 -92,-29.6 -93.8,-29.7 -95,-29.2 -96.8,-28.2 -97.3,-27 -97.4,-25.5 -97.7,-24 -97.7,-22.2 -97.2,-20.6 -96.2,-19.2 -95,-18.5 -94.3,-18.2 -92.5,-18.6 -91.3,-18.7 -90.5,-19.8 -90.4,-21 -88.5,-21.5 -87,-21.5 -87.5,-20 -87.6,-19 -88.2,-17.5 -88.4,-16 -87.5,-15.8 -85.5,-15.9 -84,-15.5 -83.3,-15 -83.6,-13 -83.7,-11.5 -83.4,-10.5 -82.3,-9.3 -81,-8.9 -80,-9.3 -79,-9.5 -77.5,-8.7 -76.8,-8.5 -76,-9.4 -75.5,-10.5 -74.8,-11 -73.3,-11.3 -72.2,-11.9 -71.3,-12.4 -71.8,-11.5 -71,-10.8 -70.2,-11.6 -69.5,-11.5 -68.3,-10.9 -66.5,-10.6 -65,-10.1 -63.8,-10.7 -62.4,-10.7 -62,-10 -60.9,-8.6 -59.8,-8.3 -58.5,-7 -57.5,-6.1 -55.5,-5.9 -54,-5.6 -52.5,-5 -51.5,-4.2 -51,-3 -50.3,-1.8 -49.9,-1 -50.5,-0 -48.8,0.7 -48,0.7 -46.5,1 -44.5,2.3 -43,2.5 -41.5,2.9 -40,2.8 -38.5,3.7 -37.2,4.8 -35.5,5.2 -35,6.5 -34.8,7.8 -35.2,9.2 -36.3,10.5 -37.3,11.7 -38.5,13 -39,14.5 -38.9,16 -39.2,17.7 -39.7,19.5 -40.3,20.5 -41,22 -42,23 -43.5,23.1 -45,23.6 -46.8,24.3 -48,25.5 -48.6,26.5 -48.7,28.3 -49.8,29.5 -50.7,31 -52,32.5 -53.4,33.8 -54.2,34.6 -55.5,34.8 -56.8,34.6 -58.4,34.3 -57.2,35.5 -56.7,36.4 -57.5,38 -59,38.7 -61.5,39 -62.3,39.8 -62.2,40.6 -63.5,41.1 -65,41 -64.6,42.3 -63.6,42.7 -64.8,43 -65.3,44.5 -66.8,45.1 -67.5,46.2 -66,47.2 -65.8,47.9 -67.3,49.2 -68.4,50.2 -69.1,51.6 -68.4,52.4 -69.5,52.6 -68.6,53 -67.5,54 -65.3,54.7 -66.5,55 -68,55.3 -69.5,55.4 -71.5,54.5 -73,53.8 -74.6,52.7 -74.2,51.5 -75.3,50 -75.5,48.6 -74.8,47.5 -75.6,46.6 -74.5,45.5 -73.8,44.3 -73.3,43.2 -74,42.5 -73.8,41.2 -73.6,40 -73.4,38.5 -73.6,37.2 -72.7,35.6 -71.8,33.9 -71.5,32.5 -71.6,30.5 -71.3,28.5 -70.8,27 -70.5,25.5 -70.4,23.5 -70.2,21.5 -70.1,19.5 -70.3,18.3 -71.5,17.4 -73,16.5 -75,15.3 -76.2,13.9 -76.8,12.5 -77.6,11 -78.5,9.3 -79.5,7.5 -80.2,6.5 -81.2,6 -81,5 -81.3,4.3 -80.3,3.4 -79.8,2.5 -80.5,2.4 -81,1.2 -80.3,-0 -80,-0.8 -79,-1.3 -78.6,-2 -77.5,-3.5 -77.4,-4.5 -77.3,-6 -77.5,-7 -78.2,-7.5 -78.5,-8.2 -79.5,-8.5 -80.3,-7.5 -81,-7.7 -81.7,-8.1 -82.9,-8.2 -83.6,-8.6 -84.7,-9.7 -85.7,-9.9 -85.8,-11 -86.8,-12.2 -87.6,-13 -88.5,-13.2 -89.8,-13.5 -91.4,-13.9 -92.5,-14.6 -93.5,-15.6 -94.5,-16.2 -96,-15.7 -97.5,-16 -98.8,-16.6 -100.5,-17.2 -101.8,-17.9 -103.5,-18.3 -104.4,-19.1 -105.5,-20 -105.3,-21.2 -105.6,-22.1 -106.4,-23.2 -107.5,-24.3 -108.2,-25.2 -109.2,-25.6 -109.5,-26.7 -110.6,-27.9 -111.3,-28.6 -112.2,-29.3 -112.8,-30.3 -113.1,-31.2 -114.2,-31.5 -114.8,-31.8 -114.7,-30.9 -114.3,-29.8 -113.3,-28.8 -112.8,-27.8 -112,-26.7 -111.4,-25.8 -110.9,-24.7 -110.3,-24.2 -109.8,-23.6 -109.9,-22.9 -110.5,-23.3 -111.2,-24.2 -112.1,-24.8 -112.3,-26 -113.5,-26.7 -114.3,-27.3 -115,-27.8 -114.2,-28.2 -114.5,-29 -115.6,-29.8 -116,-30.5 -116.7,-31.6 -117.2,-32.6 -117.4,-33.3 -118.4,-33.9 -119.5,-34.4 -120.6,-34.6 -120.8,-35.5 -121.9,-36.5 -122.4,-37.2 -122.6,-37.9 -123,-38.2 -123.7,-39 -123.8,-39.8 -124.4,-40.4 -124.1,-41.2 -124.3,-42.2 -124.5,-43 -124.1,-44.5 -124,-46 -124.1,-47 -124.7,-48.4 -123.2,-48.2 -122.5,-47.5 -122.6,-48.8 -123.2,-49.3 -124,-50 -125.2,-50.4 -126.5,-51 -127.7,-51.6 -127.9,-52.5 -128.9,-53.5 -130.2,-54.3 -130.5,-55.2 -131.8,-55.9 -132.5,-57 -133.8,-58.2 -134.5,-58.6 -135.8,-58.9 -136.6,-58.3 -138,-59 -139.7,-59.6 -141.5,-60 -143.9,-60 -145.8,-60.6 -147.5,-60.7 -148.6,-60 -149.8,-59.6 -151.3,-59.3 -151.7,-59.9 -150.5,-61 -151.5,-60.9 -152.6,-60.1 -153.6,-59.2 -154.3,-58.3 -155.6,-57.6 -156.8,-56.8 -158.5,-56 -160,-55.6 -161.9,-55.1 -163.4,-54.8 -164.8,-54.5 -163.5,-55.1 -162,-55.8 -160.5,-56.3 -159,-57.3 -157.8,-58.1 -157.2,-58.8 -158.6,-58.8 -160,-58.7 -161.7,-58.6 -162.2,-59.6 -163.8,-59.9 -165,-60.5 -165.2,-61.3 -166,-61.8 -165.2,-62.6 -164.5,-63.2 -163,-63.1 -161.2,-63.5 -160.8,-64.3 -161.6,-64.5 -163.5,-64.6 -165.5,-64.5 -166.5,-65.1 -168,-65.6ZM-73,-78.2 -71,-79 -67.5,-80 -64.5,-81 -61.5,-81.8 -57,-82.2 -50,-82.5 -45,-82.8 -40,-83.3 -33,-83.6 -26,-83.3 -22,-82.6 -20,-82 -14,-81.8 -12,-81.4 -16.5,-80.5 -18.5,-79.5 -19.2,-78 -18.6,-76.8 -20.5,-75.8 -19.5,-74.5 -21.5,-73.5 -22,-72.3 -22.3,-71 -24.5,-70.4 -23,-69.8 -26,-68.7 -29,-68.2 -32.5,-68 -35,-66.3 -37.5,-65.7 -40,-65 -41,-63.5 -42.2,-62 -43,-60.5 -44.5,-60 -46,-60.7 -48.5,-61.4 -49.7,-62.7 -50.8,-64 -52,-65.5 -53.5,-66.5 -53.8,-68 -52,-68.7 -51.2,-69.5 -53.5,-70.4 -51.5,-70.8 -54,-71.5 -55.5,-72.5 -56.5,-73.8 -58,-75 -60.5,-76 -63.5,-76.3 -67,-76.1 -70.5,-76.8 -72,-77.6 -73,-78.2ZM-89.5,-73.5 -86,-73.7 -82,-73.8 -78.5,-73.5 -76.5,-72.8 -74.5,-72.1 -71.5,-71.3 -69.5,-70.5 -68,-69.8 -66.7,-68.8 -66,-67.5 -63,-66.8 -61.8,-66.5 -63.5,-65.6 -65,-65 -66,-64.3 -65.3,-63.3 -64.5,-62.5 -65.5,-61.9 -67.8,-62.4 -70.5,-62.8 -72.5,-63.5 -74,-64.2 -76,-64.2 -77.8,-64.5 -77.5,-65.3 -74.5,-65.5 -73.5,-66.3 -72.5,-67.2 -73.5,-68.2 -75.5,-68.6 -77,-69.4 -79,-69.7 -81.5,-69.9 -84,-70.2 -86.5,-70.2 -88.5,-70.7 -89.8,-71.5 -89,-72.5 -89.5,-73.5ZM-90.5,-76.5 -86,-76.4 -82,-76.3 -79,-76.3 -78.5,-77.3 -76,-78 -74,-78.8 -71,-79.6 -67,-80.3 -64,-81.2 -62,-82 -64,-82.6 -70,-83 -77,-83 -84,-82.6 -90,-82 -92,-81.2 -89,-80.5 -87,-79.8 -85.5,-79 -88,-78.3 -90,-77.6 -90.5,-76.5ZM-97,-79.5 -94.5,-78.5 -92,-78.6 -90.5,-79.3 -92,-80.3 -93.5,-81.3 -96,-80.8 -97,-79.5ZM-96,-75.5 -93,-74.8 -89,-74.5 -85,-74.5 -81,-74.6 -80.3,-75.5 -82,-76.3 -86,-76.5 -89,-76.3 -92,-76.5 -95,-77 -96.3,-76.3 -96,-75.5ZM-119,-71 -117.5,-70 -115,-70.2 -113,-70 -111,-69.5 -108,-69 -105,-69 -102,-69.2 -101.3,-70 -103,-71 -104.5,-72 -105.5,-73 -107,-73.5 -109,-72.8 -111,-72.5 -113,-72.8 -115.5,-72.9 -117.5,-72.6 -118.5,-71.8 -119,-71ZM-125.2,-71.9 -124,-71 -121.5,-71.3 -119.5,-71.9 -117.7,-72.7 -115.5,-73.3 -117,-74 -120,-74.3 -123.5,-74.1 -124.8,-73.4 -125.2,-71.9ZM-117.5,-75.5 -115,-74.6 -111.5,-74.6 -108.5,-74.9 -106,-75.5 -106.5,-76.1 -109,-76.7 -112.5,-76.3 -115.5,-76.5 -117.5,-76.1 -117.5,-75.5ZM-122,-76.3 -119.5,-75.8 -117.5,-76.5 -119.5,-77.3 -122,-76.9 -122,-76.3ZM-101,-75.6 -98.5,-75 -97,-75.7 -98,-76.5 -101,-76.3 -101,-75.6ZM-104,-78.5 -101,-78 -99,-78.8 -101.5,-79.3 -104,-78.5ZM-97.5,-77.8 -95.5,-77.8 -95.5,-78.5 -97.5,-78.5 -97.5,-77.8ZM-102,-72.8 -101,-72 -98.5,-71.5 -97,-72.2 -96.5,-73.3 -98,-73.9 -100.5,-73.6 -102,-72.8ZM-95,-73 -93.5,-72.1 -92,-72.5 -90.5,-73.5 -92,-74 -94.5,-74 -95,-73ZM-99.5,-68.9 -98,-68.3 -96.5,-68.5 -96,-69.5 -97.5,-69.8 -99,-69.5 -99.5,-68.9ZM-87.5,-64.2 -86,-63.5 -84,-63.8 -81.5,-63.8 -80.5,-64.5 -82,-65.3 -84,-65.9 -86,-66.3 -87.2,-65.3 -87.5,-64.2ZM-83.5,-62.9 -82,-62.6 -81.5,-63 -82.5,-63.4 -83.5,-62.9ZM-59.3,-47.6 -56.2,-47.6 -55.5,-47 -53.5,-46.7 -52.7,-47.5 -53.3,-48.5 -54.5,-49.5 -55.8,-49.8 -55.6,-51.5 -56.8,-51.4 -58,-49.8 -58.7,-48.6 -59.3,-47.6ZM-128.3,-50.8 -127,-50 -125.5,-49 -123.8,-48.4 -123.5,-48.9 -124.8,-49.6 -126,-50.4 -127.5,-50.9 -128.3,-50.8ZM-84.9,-21.9 -83.5,-22.9 -82,-23.2 -80.5,-23.1 -78.5,-22.4 -77.2,-21.6 -75.7,-21.1 -74.2,-20.2 -75.5,-19.9 -77.5,-19.9 -77.6,-20.5 -78.5,-21.5 -80.5,-22 -82,-22.3 -83.5,-21.8 -84.9,-21.9ZM-74.4,-18.5 -73,-19.9 -71.5,-19.9 -69.5,-19.6 -68.4,-18.6 -69.9,-18.4 -71.4,-17.7 -72.8,-18.2 -74.4,-18.5ZM-78.3,-18.4 -76.3,-18.2 -76.6,-17.9 -78,-18 -78.3,-18.4ZM-67.2,-18.5 -65.6,-18.4 -65.7,-18 -67.1,-18 -67.2,-18.5ZM-24,-65.5 -22.5,-66.4 -20,-66.1 -16.5,-66.5 -14.5,-66.2 -13.5,-65.2 -15,-64.3 -18,-63.4 -20.5,-63.6 -22.6,-63.8 -22,-64.5 -24,-65.5ZM-5,-58.6 -3,-58.6 -3.8,-57.7 -1.8,-57.6 -2.5,-56.3 -1.6,-55.6 -1.2,-54.6 -0.2,-54 0.3,-53.4 1.7,-52.7 1.5,-51.9 0.9,-51.4 1.4,-51.2 0.2,-50.8 -1.5,-50.7 -3.5,-50.3 -5.7,-50 -4.3,-51.2 -3,-51.5 -5.2,-51.7 -4.1,-52.3 -4.7,-52.8 -3.1,-53.3 -2.9,-54 -3.6,-54.5 -4.9,-54.7 -4.9,-55.7 -5.7,-55.3 -5.6,-56.5 -6.2,-57.4 -5,-58.6ZM-6.2,-55.2 -5.5,-54.4 -6.1,-53.9 -6,-52.2 -6.5,-52.1 -8.2,-51.6 -10,-51.6 -9.8,-53 -10.1,-53.9 -8.6,-54.3 -8.5,-55.2 -7.2,-55.3 -6.2,-55.2ZM8.4,-41 9.5,-41.2 9.8,-40 9.5,-39.1 8.5,-39 8.4,-40 8.4,-41ZM8.6,-42.9 9.4,-43 9.5,-42 9.2,-41.4 8.6,-41.8 8.6,-42.9ZM12.4,-38 13.5,-38.2 15.6,-38.3 15.1,-37.3 15.1,-36.7 14.3,-37 12.4,-37.6 12.4,-38ZM23.5,-35.6 25,-35.4 26.3,-35.3 25.8,-35 24,-35.1 23.5,-35.6ZM32.3,-35 33,-35.4 34.6,-35.7 34,-35 33,-34.6 32.3,-35ZM11,-78.5 11.5,-79.7 14,-79.8 16.5,-80 18.5,-79.9 22,-80.5 27,-80.2 25,-79.4 21,-78.7 19,-78 18.5,-77 16.5,-76.6 14.5,-77.3 13,-78.2 11,-78.5ZM51.5,-71.6 53,-73 54.5,-73.8 56,-75 58.5,-75.8 62,-76.3 65.5,-76.7 68.5,-76.9 67,-76.1 63,-75.5 60,-74.8 58,-74 56.5,-73 56,-71.8 57.5,-70.7 55,-70.6 53,-70.9 51.5,-71.6ZM47,-80.5 52,-80.1 58,-80 62,-80.6 60,-81.3 55,-81.8 50,-81.4 47,-80.5ZM95,-79 98,-78.3 101.5,-78.9 104,-79.5 102,-80.6 98,-81.2 95,-80.8 93,-80 95,-79ZM137.5,-75 140,-74 142.5,-73.3 146,-74.7 150,-75 149,-76 144,-75.8 140.5,-75.9 137.5,-75ZM178.6,-71.1 180,-70.8 180,-71.55 178.6,-71.1ZM-180,-70.8 -178,-71 -177.5,-71.3 -180,-71.55 -180,-70.8ZM-180,-68.9 -178,-68.5 -175,-67.6 -173,-67 -171.5,-66.9 -169.7,-66.1 -170.8,-65.5 -172.2,-65.3 -172.8,-64.4 -174.5,-64.6 -176,-65 -178.5,-65.6 -180,-65.3 -180,-68.9ZM142,-46.2 143.5,-46.2 143.3,-47.5 142.7,-49 143.2,-50.5 143.2,-52.5 143,-53.5 142.6,-54.4 142.3,-53.3 141.7,-51.5 142,-49.5 142,-48 141.9,-47 142,-46.2ZM140,-41.5 141.3,-41.8 141.7,-42.6 143.3,-42 144.5,-43 145.5,-43.3 145.3,-44.3 143.3,-44.3 141.7,-45.4 141.6,-44 141.3,-43.2 140.4,-43.3 140,-42.5 140,-41.5ZM141.4,-41.4 141.5,-40.4 142,-39.5 141.5,-38.3 141,-37.5 140.8,-36.5 140.7,-35.5 139.8,-35 139,-34.8 137.5,-34.6 136.8,-34.3 135.5,-33.5 135.2,-34.5 133.5,-34.4 132,-34 130.9,-34 131.5,-34.6 133,-35.5 135.5,-35.7 136.5,-36.8 137.3,-37 137.5,-36.8 138.5,-37.4 139.5,-38.3 140,-39.5 139.9,-40.5 140.5,-41.3 141.4,-41.4ZM130.9,-33.9 131.6,-33.2 131.9,-32 131.1,-31.2 130.3,-31.3 130.2,-32.5 129.6,-33.3 130.9,-33.9ZM132.5,-33 133,-34 134.5,-34.2 134.7,-33.8 133.8,-33.3 132.5,-33ZM121,-25.1 121.9,-24.9 121.6,-24 120.9,-22 120.2,-22.7 120.1,-23.5 120.6,-24.5 121,-25.1ZM108.7,-19.3 110.2,-20.1 111,-19.6 110.4,-18.4 109.2,-18.3 108.7,-19.3ZM120.6,-18.5 122.2,-18.5 122.3,-17 121.6,-15.8 121.6,-14.5 122.5,-14.2 124,-13.8 124.1,-12.6 123,-13 121.8,-13.9 120.6,-13.9 120.6,-14.8 119.8,-16 120.3,-16.6 120.6,-18.5ZM122,-7 123.5,-7.8 124.2,-8.2 125.5,-9.6 126.5,-8 126.2,-6.5 125.4,-5.6 124,-6.3 123,-7.3 122,-7ZM122,-11.8 123.2,-11 124.5,-11.3 125.5,-11.8 125,-10.2 124,-9.7 123,-9.2 122.4,-10.4 122,-11.8ZM117.2,-8.4 118.5,-9.5 119.7,-10.7 119.5,-11.3 118.2,-10 117.2,-8.4ZM79.8,-9.8 80.8,-9.2 81.8,-7.5 81.5,-6.2 80.6,-5.9 80,-6.7 79.8,-8 79.8,-9.8ZM95.3,-5.6 97.5,-5.2 98.8,-3.6 100.5,-2 101.8,-1.6 103.5,-0 104.4,1 105.9,3 105.8,5.8 104.6,5.9 103,4.3 101.5,2.6 100.4,0.8 99,-1.3 98,-2.5 96.5,-3.8 95.3,-5.6ZM105.2,6.8 106,5.9 108.3,6.3 110.5,6.9 112.6,6.9 114.6,7.8 114.4,8.7 112,8.3 110,8.1 108,7.7 106.4,7.4 105.2,6.8ZM109,-1.5 109.7,-2 111,-1.6 113,-3.2 114,-4.5 115.5,-5.3 116.8,-6.9 117.7,-6 119.2,-5.2 118.2,-4.5 117.7,-3.5 117.9,-1.3 119,-0.9 118,-0 117.5,1 116.5,2 116.5,3.5 115.5,3.9 114.5,3.5 113,3.2 111.6,3.5 110.2,2.9 110,1.7 109.2,0.3 109,-1.5ZM119.6,5.5 120.4,5.6 120.3,3 121,2.7 122.3,4.8 123.2,4.7 122,3 121.5,1.8 122.7,0.8 123.3,1 121.6,0.6 120.2,-0.4 121.5,-0.5 123,-0.6 124.5,-0.8 125.2,-1.5 124.5,-1.2 122.5,-1 120.8,-1.3 120,-0.7 119.8,0.3 119,1 118.8,2.6 119.4,3.5 119.6,5.5ZM131,1.3 132.5,0.4 134,0.9 134.2,2.8 135.5,3.3 137.5,1.6 139,2.1 141,2.6 143.5,3.4 145.5,4.9 145.8,5.8 147.6,6.2 147,7.3 148.2,8.3 149.2,9.3 150.6,10.3 149,10.3 147.2,9.5 145.5,8 143.5,8.6 143,9.3 141,9.2 139,8.2 138,8.4 138.6,7.1 138,5.7 136,4.6 134,3.8 132.8,4.1 132,2.8 133.6,2.5 132,2 131,1.3ZM124,10 125.3,9 127.3,8.4 126,9 124.5,10.2 124,10ZM116,8.5 117.5,8.3 119,8.5 121,8.4 123,8.2 122.8,8.7 120.5,8.8 118,9 116,8.9 116,8.5ZM127.5,-1.8 128,-0.5 128.7,-1.3 128.2,0.7 127.5,0.3 127.5,-1.8ZM128,3.2 130,2.9 130.8,3.8 129,3.6 128,3.2ZM113.5,22 114.1,21.8 116.7,20.6 119,20 121,19.5 122.3,17.2 123.6,16.2 125,15 126.9,13.9 128.4,14.9 129.6,14.9 130.2,13 131.5,12.2 132.6,11.6 134.5,12 136,11.9 136.9,12.4 135.9,13.4 135.6,14.8 137,15.9 139.3,17.5 140.8,17.4 141.5,15 141.6,12.5 142.5,10.7 143.5,12.8 143.8,14.4 145.3,15 145.5,16.5 146.3,18.9 148.8,20.3 149.7,22.5 150.8,23 153.1,25.5 153.6,28.5 153,31 151.3,33.5 150.1,36 149.9,37.5 147.5,38 146.3,39.1 144.9,37.9 143.5,38.8 140.5,38 139.6,37.2 139.3,35.8 138.1,35.6 138.5,34.5 137.8,33.4 137.5,34.7 136,34.8 135.2,33.8 134.2,32.6 131.5,31.5 128,32 125,32.8 123.5,33.9 120,33.9 118,35 115.5,34.4 115,33.5 115.7,31.5 115,29.5 114.3,27.8 113.5,26.5 113.6,24.5 113.5,22ZM144.7,40.7 146.5,41.1 148.3,40.9 148.2,42.2 147.5,43.3 146.1,43.6 145.2,42.3 144.7,40.7ZM172.7,34.4 174,35.3 174.8,36.8 175.9,37.2 177,38 178.5,37.7 177.9,39.2 176.8,40.2 175.2,41.6 174.6,41.2 175.2,40.3 174,39.2 174.6,38 174.5,37 173,35.3 172.7,34.4ZM172.6,40.5 174.2,41.3 173.9,42.3 172.8,43.8 171.2,44.5 170.7,45.9 169,46.6 167.5,46.3 166.5,45.5 168,44 170.5,42.8 171.5,41.6 172.6,40.5ZM49.3,12 50.4,15.3 49.8,17 48.8,20 47.5,24.5 47.1,25 45.2,25.5 44,25 43.3,22.5 43.8,20.5 44.4,19 44,17 45.5,16 47,15 48,13.6 49.3,12ZM-61.3,51.2 -59.5,51.3 -57.8,51.6 -58.5,52.2 -60.5,52.2 -61.3,51.2ZM-180,90 -180,78.8 -170,78.6 -162,78.3 -158,77.6 -155,77 -150,76.5 -145,75.8 -140,75.2 -135,74.6 -130,74.3 -125,74 -120,74 -115,74.2 -110,74.5 -105,74.3 -100,73.6 -95,73 -88,72.6 -82,72.8 -76,71 -73,70.5 -70,68.5 -67,67 -64,65.2 -60,63.6 -56.5,62.9 -58.5,64.2 -62,65.8 -64,67.7 -61,71 -61.5,72.5 -64,74.5 -66.4,76.6 -62,77 -58,77.2 -52,77.6 -46,77.9 -40,77 -34,75.9 -28,74.8 -22,73.5 -17.3,72.2 -12,71.3 -6,70.8 0,70.5 6,70.2 12,70 18,70 24,69.8 30,69.6 35,69.2 40,68.8 45,67.5 50,66.5 54,65.8 58,66.8 62,67.4 66,67.8 69,68.3 70.7,69.2 73,69.5 75,69 78,68.5 82,67.3 86,66.8 90,66.5 95,66.3 100,66 103,65.8 107,66.3 110,66.4 115,66.8 120,66.8 125,66.4 130,66.2 135,66 140,66.6 143,67 147,68 152,68.6 156,69.2 160,70 163,70.6 167,71 170,71.5 171,72.3 168,73.5 166,74.5 165.8,75.4 164,77 163,79 166,78.7 170,78.6 175,78.6 180,78.8 180,90ZM-5.6,-36 -6.3,-36.5 -7.4,-37.2 -8.9,-37 -8.8,-38.4 -9.5,-38.8 -8.9,-40.5 -8.8,-42 -9.3,-43 -8,-43.7 -5,-43.5 -3,-43.4 -1.8,-43.4 -1.3,-44.5 -1.2,-46 -2.2,-47.2 -4.5,-47.8 -4.7,-48.5 -3,-48.8 -1.5,-48.7 -1.6,-49.7 -1.2,-49.3 0.2,-49.5 1.5,-50.2 2.5,-51.1 3.5,-51.5 4.3,-52.3 4.8,-53 6.5,-53.4 8,-53.5 8.9,-54 8.6,-55.5 8.1,-56.5 8.6,-57.1 10.5,-57.7 10.3,-56.6 10.9,-56.3 10,-55.5 9.6,-55 10.2,-54.4 11,-54 12.5,-54.4 14,-54 16,-54.3 18.5,-54.7 19.5,-54.4 21,-55.3 21,-56.8 21.6,-57.5 22.6,-57.7 23.5,-57 24.3,-57.3 24.3,-58.3 23.5,-58.9 23.5,-59.3 25,-59.5 28,-59.5 30,-59.9 29,-60.2 26,-60.4 23,-59.9 21.4,-60.8 21.4,-62 21.5,-63.2 24.5,-64.8 25.4,-65 24.5,-65.8 23,-65.8 21.8,-65.5 21.3,-64.5 20,-63.7 18.5,-63 17.5,-62.5 17.3,-61 18.5,-60.2 18.9,-59.5 18,-59 16.7,-57.8 16.5,-56.7 15,-56.2 14.2,-55.4 13,-55.4 12.7,-56.2 11.9,-57.7 11.2,-59 10.6,-59.7 9.5,-59 8,-58.1 6.5,-58.2 5.6,-58.9 5,-60.5 5,-62 6.5,-62.8 8.5,-63.5 10,-64.5 12,-65.8 13,-67 14.5,-68 15.5,-68.8 17.5,-69.5 19,-70 21.5,-70.3 23.5,-70.7 25.8,-71.1 28,-71 29.5,-70.6 31,-70.3 33,-69.5 36,-69.1 38.5,-68.5 40.5,-67.8 41.2,-66.8 40,-66.2 38,-66.1 35.5,-66.4 33.5,-66.6 32.4,-67.1 33.5,-66 34.8,-65 34.7,-64.5 36,-64.2 37.5,-64 38,-64.5 40,-64.6 40.5,-65.5 42.5,-66.4 44.2,-66.5 43.8,-67.5 43.5,-68.5 45.5,-68.5 46.5,-67.9 48.5,-67.7 50.5,-68.2 53,-68.5 54.5,-68.2 56.5,-68.6 58.5,-68.9 60,-69.5 60.6,-69.9 62.5,-69.7 64.5,-69.3 66.5,-69.4 67.3,-68.7 68.5,-68.2 69.2,-68.8 68.5,-69.6 67.2,-70 67,-71 68.5,-72 69.5,-72.9 71,-73.4 72.7,-73 72.8,-72.2 72,-71 72.5,-69.7 72,-68.5 73.3,-67 74,-67.8 74.8,-68.6 73.7,-69.2 73.8,-70.5 73.3,-71.4 75,-72.3 76,-71.9 78,-72.4 80.5,-72 80.8,-73.6 83,-73.8 86.5,-73.8 86.8,-74.6 88.5,-75.3 92,-75.9 95,-76.1 98.5,-76.3 101,-76.5 100.8,-77.2 103,-77.7 104.3,-77.7 106,-77.4 107.5,-76.8 111,-76.7 113.5,-76.2 113.5,-75 112,-74 111,-73.7 113.5,-73.6 115,-73.7 118,-73.6 119.5,-73 122,-72.9 124,-73.7 126.5,-73.5 128.5,-73.1 129.5,-72 129,-71.2 131.5,-70.8 132.5,-71.5 134,-71.4 136,-71.6 138,-71.5 139.5,-72.3 141,-72.7 143.5,-72.7 146,-72.3 149,-72.2 150.5,-71.5 152,-70.9 155,-71 157.5,-70.9 159.5,-70.6 160.8,-69.6 163,-69.7 165,-69.6 167.5,-69.8 170,-70.1 172,-69.9 174.5,-69.9 176.5,-69.6 178.5,-69.3 180,-68.9 180,-65.3 178.5,-64.7 177.5,-64.7 177,-63.2 179,-62.5 177.5,-62.4 174.5,-61.8 172.5,-61 170.5,-60 168,-60.4 166,-59.8 164,-59.8 163,-59.2 162,-58 163.2,-57.2 162.8,-56.3 161.8,-55.2 160.2,-54 159.2,-53.1 158.3,-52.5 157,-51.3 156.5,-51.7 155.8,-54 155.6,-56 156.5,-57.5 157.8,-58 159.5,-59.5 161.5,-60.3 162.5,-61.5 160.5,-61.7 159,-61.2 157,-61.5 155,-60 154,-59.2 152,-59 150.5,-59.5 148.5,-59.3 146,-59.3 143.5,-59.3 141.5,-58.5 140.2,-57.6 138.5,-56.3 137,-54.5 138.5,-53.8 139.5,-54.2 141.3,-53.2 140.6,-51.5 140.4,-50 140.2,-48.5 138.5,-46.8 136.8,-44.8 135.2,-43.5 133.5,-42.8 132.3,-43.2 130.8,-42.4 129.7,-41 129.5,-40 128,-39.5 127.5,-39.3 128.5,-38.3 129.4,-37 129.4,-35.5 129,-35.1 127.5,-34.7 126.4,-34.5 126.5,-35.8 126.8,-36.8 126.5,-37.6 125.5,-37.8 125,-38.5 125.3,-39.5 124.3,-39.9 122.5,-39.5 121.2,-38.8 121.7,-39.8 122.3,-40.6 121,-40.9 120,-40.2 119.2,-39.3 118,-39.2 117.6,-38.6 118.5,-38 119,-37.2 120,-37.5 121.5,-37.8 122.6,-37.3 121.5,-36.7 120.2,-36 119.3,-34.8 120.3,-34.2 120.8,-32.6 121.9,-31.7 121.9,-30.8 121.5,-30.3 122,-29.5 121.5,-28.5 120.7,-27.5 119.7,-26 119,-25.2 118,-24.5 117,-23.6 116,-22.9 114.5,-22.4 113.5,-22.2 112,-21.8 110.6,-21.3 110.2,-20.3 109.7,-21 109.9,-21.5 108.5,-21.6 107,-21 106.5,-20.3 105.8,-19 106.5,-17.5 107.5,-16.5 108.8,-15.3 109.3,-13.5 109.2,-11.7 108.2,-11 106.8,-10.3 106,-9.3 105,-8.6 104.8,-9.8 104.5,-10.5 103.5,-10.6 102.5,-12 101.5,-12.7 100.9,-13.5 100,-13.4 100,-12 99.2,-10.5 99.3,-9.2 100.2,-8.3 100.4,-7 101.5,-6.8 102.5,-6 103.4,-4.8 103.4,-3.5 104,-2.2 104.2,-1.4 103.5,-1.3 102.5,-2 101.3,-2.9 100.6,-4.2 100.3,-5.5 100.2,-6.5 99,-7.5 98.3,-8 98.5,-10 98.7,-11.5 98.5,-13 97.7,-15 97.5,-16.7 96.5,-16.5 95.5,-15.8 94.5,-16 94.3,-17.5 94,-19 93,-19.8 92.3,-21 91.9,-22.3 91,-22.6 90.3,-21.9 89,-21.8 88,-21.6 87,-21 86.8,-20.2 85.5,-19.5 84.5,-18.6 83.5,-18 82.3,-16.6 81.3,-15.9 80.3,-15.2 80.2,-13.5 80,-12 79.8,-10.3 79,-9.5 78.2,-8.9 77.5,-8.1 76.5,-8.9 76,-10.5 75.5,-11.8 74.8,-13 74.3,-14.5 73.5,-16 73,-18 72.8,-19.3 72.7,-20.8 72.6,-21.8 72.2,-22.2 71,-21 70,-21.3 69,-22.3 69.8,-22.8 68.5,-23.5 67.5,-24 66.8,-24.8 65,-25.3 62.5,-25.2 61.6,-25.2 59,-25.4 57.5,-25.7 57,-26.8 56.3,-27.2 55,-26.7 53.5,-26.8 52.5,-27.5 51.5,-27.9 50.8,-28.8 50.3,-29.8 49.5,-30 48.5,-29.9 48,-29.3 48.6,-28.1 49.5,-27.1 50.2,-26.2 50.6,-25 51,-26 51.6,-25.6 51.6,-24.6 52.5,-24.2 54,-24.2 55.5,-25.3 56.3,-26.3 56.4,-24.8 57.5,-23.8 58.8,-23.5 59.8,-22.5 59.3,-21.4 58.5,-20.5 57.8,-19.9 57.7,-19 56.6,-18.3 56,-17.8 55,-17 53,-16.6 52,-15.8 50,-15.1 49,-14.5 47.5,-13.6 46,-13.4 45,-12.8 43.5,-12.7 43.2,-13.3 42.7,-15.5 42.6,-16.5 41.5,-18 40.8,-19.5 39.8,-20.5 39.1,-21.5 38.5,-23.5 37.5,-24.8 36.5,-26 35.7,-27.5 35,-28 34.8,-29.5 34.5,-28.5 34.2,-27.8 33.5,-28.3 32.6,-29.9 32.5,-29.5 32.8,-28.5 33.6,-27.2 34.5,-25.5 35.4,-24 35.8,-23 36.8,-22 37.3,-20.5 37.5,-18.6 38.5,-18 39.5,-15.5 40.5,-14.8 41.5,-13.8 42.4,-12.8 43.3,-12.2 43.3,-11.5 44.5,-10.4 46,-10.7 47.5,-11.1 49,-11.3 50.5,-11.7 51.3,-11.8 51,-10.4 50.8,-9.5 50,-8 49,-6 48,-4.5 46.5,-2.5 45,-1.7 43.5,-0.7 42,0.8 41,2 40,3 39.5,4.5 38.8,6 39.3,7 39.5,8.5 40,10 40.5,11 40.6,14 40.2,15.5 39,16.8 37,17.8 36,18.8 35,19.8 35.2,21.5 35.5,23 35.4,24 34,24.8 32.8,25.8 32.9,27 32.5,28.5 31.5,29.5 30.5,30.8 29.5,31.8 28,32.8 26.5,33.8 25,34 23,34 21.5,34.4 20,34.8 19,34.5 18.4,34.2 18.3,33 18,32 17.3,30.5 16.5,28.6 15.3,27 14.8,25 14.5,22.8 13.5,21 12.5,19 11.8,17.3 11.8,15.5 12.3,14 13.6,12 13.7,10.5 13.2,9 12.4,6.5 12.2,5.5 11.5,4.5 10.5,3.2 9.5,2 9,0.7 9.5,-1 9.6,-2.5 9.8,-3.2 9,-4 8.5,-4.5 7,-4.4 6,-4.3 5.5,-5 4.5,-6.2 3,-6.4 1.5,-6.2 0,-5.7 -1.5,-5 -3,-5.1 -4.5,-5.2 -6,-4.8 -7.5,-4.4 -9,-5 -10.5,-6.2 -11.5,-7 -12.5,-7.7 -13.3,-8.8 -13.8,-9.8 -14.8,-10.8 -15.5,-11.5 -16.7,-12.3 -16.8,-13.5 -17.5,-14.7 -16.8,-15.5 -16.5,-16.5 -16.2,-18 -16.2,-19.5 -17,-20.8 -16.5,-22.3 -16,-23.7 -15,-24.7 -14.5,-26 -13.3,-27.5 -12,-28 -10.5,-28.8 -9.7,-29.8 -9.7,-30.8 -9.5,-32.3 -8.5,-33.3 -7,-33.9 -6.2,-35 -5.9,-35.8 -5.3,-35.9 -4.3,-35.2 -2.5,-35.1 -1.2,-35.4 0,-35.9 1.5,-36.5 3,-36.8 5,-36.8 6.5,-37 8.5,-36.9 9.8,-37.3 10.3,-37 11,-37 10.5,-36.2 11,-35.5 10.7,-34.6 10.2,-34 11,-33.3 12.5,-32.9 13.5,-32.8 15.2,-32.3 15.8,-31.4 17,-31 18.5,-30.4 19.8,-30.7 20.2,-31.5 20,-32.2 21,-32.8 22.5,-32.8 23.5,-32.2 25,-31.7 27,-31.3 29,-30.9 30.5,-31.5 32,-31.2 33.5,-31.1 34.3,-31.3 34.8,-32.3 35,-33 35.5,-34 35.9,-35 35.8,-35.8 36.2,-36.6 35.5,-36.6 34.5,-36.7 33.5,-36.2 32.5,-36.1 31.5,-36.7 30.5,-36.5 29.5,-36.2 28.2,-36.7 27.3,-37 27.2,-37.8 26.5,-38.3 26.8,-39 26.2,-39.5 26.2,-40.1 27.3,-40.4 29,-40.8 29,-41.1 30.5,-41.2 31.5,-41.3 32.5,-41.8 34,-42 35.2,-42 36,-41.5 37.5,-41.1 39,-41 40.5,-41 41.6,-41.6 41.6,-42.6 40.3,-43.1 39,-44 38,-44.4 37.3,-44.9 37.5,-45.4 38.3,-46.1 39.2,-47.1 38.2,-47.1 36.5,-46.6 35.2,-46.2 34.8,-45.8 35.5,-45.3 36.5,-45.4 36,-45 35,-44.8 34,-44.4 33.4,-44.6 33.6,-45.1 32.5,-45.4 33.5,-46 32,-46.5 31,-46.6 30.2,-45.8 29.6,-45.2 28.8,-44.7 28.6,-44 27.9,-42.8 28,-41.9 28.5,-41.3 29,-41.1 28,-41 26.6,-40.6 26,-40.8 25,-40.9 23.8,-40.7 22.9,-40.6 22.6,-40 23.2,-39.2 22.6,-38.8 24,-38.2 23.3,-37.8 22.8,-37 23,-36.5 22.4,-36.5 21.7,-36.8 21.3,-37.6 21.5,-38.2 21,-38.8 20.3,-39.3 20,-39.8 19.4,-40.3 19.5,-41.3 19.5,-41.9 18.6,-42.4 17.5,-43 16.3,-43.5 15.3,-44.2 14.8,-45 14.2,-45.3 13.7,-45.6 12.5,-45.5 12.3,-44.8 12.4,-44.2 13.5,-43.6 14.1,-42.6 15.2,-41.9 16,-41.9 17.3,-40.9 18.5,-40.2 18.3,-39.8 17.2,-40.4 16.6,-39.7 17.1,-39 16.5,-38.6 16.1,-38 15.7,-37.9 15.7,-38.7 16,-39.4 15.6,-40.1 14.7,-40.6 14.1,-40.8 13,-41.3 12.2,-41.8 11.2,-42.4 10.5,-43 10.3,-43.7 9.8,-44.1 8.7,-44.4 8,-43.9 7.3,-43.7 6.2,-43.1 4.8,-43.4 3.5,-43.3 3.1,-42.5 3.2,-41.9 2,-41.2 1,-41 0.3,-40.3 -0.3,-39.5 0.1,-38.8 -0.5,-38.3 -0.8,-37.6 -1.7,-37.2 -2.2,-36.7 -3.5,-36.7 -4.5,-36.6 -5,-36.4 -5.6,-36ZM-166.5,-53.9 -165.5,-54.2 -164.8,-54.6 -165.8,-54.1ZM-170,-52.9 -168,-53.4 -167.5,-53.6 -169.5,-53.1ZM-176.5,-51.9 -174,-52.1 -172,-52.3 -174,-52.3 -176.5,-52.1ZM-180,-51.7 -178,-51.8 -177,-51.9 -178,-52 -180,-51.9ZM173,-52.8 175,-52.5 177,-51.9 180,-51.7 180,-51.9 177,-52.1 175,-52.7 173,-53ZM-156,-20.9 -155,-19.2 -155.8,-19 -156,-20ZM-158.3,-21.6 -157.7,-21.3 -158.1,-21.3ZM-159.8,-22.2 -159.3,-22 -159.6,-21.9ZM148.3,5.5 150,5 151.5,4.2 152.3,4.5 151,5.5 149.5,6.2 148.3,5.5ZM156.5,6.6 158,7.3 159,8 157.5,7.6 156.5,6.6ZM159.5,9.2 161,9.5 162,10.5 160.5,9.9 159.5,9.2ZM166.5,14.8 167.3,15.5 167.8,16.5 168.5,17.7 169.2,19.5 168.2,17 166.9,15.8 166.5,14.8ZM164,20.2 165.5,21 167,22.2 166.3,22.4 164.5,21 164,20.2ZM177.3,17.5 178.5,17.3 178.4,18.2 177.3,18 177.3,17.5ZM178.8,16.5 180,16.2 180,16.9 178.8,16.9Z" vector-effect="non-scaling-stroke"/>
<path d="M47,-44.8 49,-46.5 51.5,-47 53,-46.7 53.2,-45.3 51.3,-45 51,-44 52.8,-42 52.6,-41 53.5,-40 53.5,-38.5 54,-37.3 52,-36.8 50.5,-37 49,-37.6 48.8,-38.8 49.5,-40.3 48.5,-41.7 47.5,-42.8 47,-44.8ZM59.5,-46.5 61,-46.6 61.2,-45.2 60,-44 59,-44.2 59.5,-45.5ZM-92,-46.7 -90,-46.6 -87.5,-46.5 -85,-46.5 -84.6,-47.2 -85.5,-47.9 -87,-48.5 -89.5,-48 -92,-46.7ZM-87.8,-42 -86.6,-42 -86.2,-43.5 -86.5,-45 -85.5,-45.8 -87,-45.8 -87.5,-44.5 -87.8,-42ZM-84.5,-45.8 -83.3,-45.2 -82.5,-43 -81.7,-43.5 -81.7,-44.8 -80.3,-45 -81.5,-46.1 -84.5,-45.8ZM-83.4,-41.8 -81,-42.6 -78.9,-42.9 -79.8,-42.2 -82.5,-41.4 -83.4,-41.8ZM-79.8,-43.3 -76.2,-43.5 -76.5,-44.2 -79,-43.9 -79.8,-43.3ZM-97,-50.5 -96.3,-51.5 -98.5,-53.8 -99,-53 -97,-50.5ZM-117,-61 -114,-61.5 -111,-62.5 -113.5,-62.2 -116,-61.6 -117,-61ZM-125,-65.2 -122,-65 -120,-66.5 -122,-66.8 -124,-66 -125,-65.2ZM103.8,-51.6 105.5,-52 107.5,-53 109.5,-55 109.8,-55.8 108.8,-55 106.5,-53.2 104.5,-52.2 103.8,-51.6ZM31.8,0.5 32.5,-0.3 34,-0 34.5,1 33.5,2.6 32,2.5 31.8,1.5 31.8,0.5ZM29.2,3.4 29.5,4.5 30.5,6.5 31,8.5 30.6,8.6 29.7,6.5 29.1,4.5 29.2,3.4ZM34,9.5 34.5,10.5 34.8,12.5 35.2,14.3 34.5,14 34.2,12 34,9.5ZM30.2,-60 32.8,-60.6 32.5,-61.3 30.8,-61.5 30.2,-60ZM-70,15.3 -68.7,15.8 -69.2,16.4 -70,15.3ZM73.5,-46.3 75,-46.8 77,-46.6 79,-46.4 78.6,-45.9 76.5,-46.1 74.8,-45.6 73.5,-45.9Z" vector-effect="non-scaling-stroke"/>
</g>
</defs>
<text x="347.6" y="11.6" class="title" text-anchor="middle">Atmospheric CO<tspan dy="3.1" font-size="10">2</tspan><tspan dy="-3.1"> concentrations (ppm) in 2041-2060</tspan></text>
<svg x="26.3" y="31.6" width="307.3" height="153.65" viewBox="-180 -90 360 180" preserveAspectRatio="none">
<rect x="-180" y="-90" width="360" height="7.31" fill="#ffdc40"/>
<rect x="-180" y="-82.74" width="360" height="1.46" fill="#ffbe40"/>
<rect x="-180" y="-81.33" width="360" height="4.74" fill="#ffdc40"/>
<rect x="-180" y="-76.64" width="360" height="14.11" fill="#ffca40"/>
<rect x="-180" y="-62.59" width="360" height="23.48" fill="#ffa040"/>
<rect x="-180" y="-39.16" width="360" height="11.76" fill="#ffdc40"/>
<rect x="-180" y="-27.44" width="360" height="5.32" fill="#ffee40"/>
<rect x="-180" y="-22.17" width="360" height="8.48" fill="#ffff40"/>
<rect x="-180" y="-13.74" width="360" height="2.74" fill="#c0ff40"/>
<rect x="-180" y="-11.04" width="360" height="13.76" fill="#ffff40"/>
<rect x="-180" y="2.67" width="360" height="6.02" fill="#c0ff40"/>
<rect x="-180" y="8.64" width="360" height="8.48" fill="#80ff40"/>
<rect x="-180" y="17.07" width="360" height="4.74" fill="#60ff40"/>
<rect x="-180" y="21.76" width="360" height="9.07" fill="#80ff40"/>
<rect x="-180" y="30.78" width="360" height="59.27" fill="#40ff40"/>
<path d="M-45,-77 20,-77 22,-72 60,-70.5 60,-62 -45,-62Z" fill="#ffa040"/>
<path d="M58,-24 66,-25.5 72,-23 80,-17 88,-22.5 94,-20 99,-14 97,-7 88,-5 80,-3 72,-6 64,-12 56,-18Z" fill="#ffee40"/>
<g clip-path="url(#shc)"><use href="#landp" fill="none" stroke="#ffff40" stroke-opacity="0.4" stroke-width="9" stroke-linejoin="round"/></g>
<g clip-path="url(#lc)">
<rect x="-180" y="-90" width="360" height="20" fill="#ffdc40"/>
<rect x="-180" y="-70" width="360" height="37" fill="#ffa040"/>
<rect x="-180" y="-33" width="360" height="5" fill="#ffbe40"/>
<rect x="-180" y="-28" width="360" height="8" fill="#ffdc40"/>
<rect x="-180" y="-20" width="360" height="12" fill="#fffa40"/>
<rect x="-180" y="-8" width="360" height="13" fill="#ecff40"/>
<rect x="-180" y="5" width="360" height="15" fill="#d9ff40"/>
<rect x="-180" y="20" width="360" height="15" fill="#a6ff40"/>
<rect x="-180" y="35" width="360" height="25" fill="#60ff40"/>
<rect x="-180" y="60" width="360" height="30" fill="#40ff40"/>
</g>
<path d="M-75,-59 -10,-59 -10,-84 -75,-84Z" fill="#ffcd40" clip-path="url(#lc)"/>
<path d="M20,-51 20,-72 180,-72 180,-60 150,-56 135,-54 120,-52 90,-51 60,-51Z" fill="#ffcb40" clip-path="url(#lc)"/>
<path d="M28,-43 28,-51 60,-51 90,-51 125,-51 125,-45 100,-43 60,-43Z" fill="#ff8a40" clip-path="url(#lc)"/>
<path d="M68,-23 70,-30 74,-33 80,-31 86,-28 90,-26.5 91,-24 88,-21.5 83,-19 79,-17 74,-18 71,-20Z" fill="#ff9340" clip-path="url(#lc)"/>
<path d="M35,-30 48,-30 56,-26 59,-22 52,-16 43,-13 39,-20 35,-27Z" fill="#fff140" clip-path="url(#lc)"/>
<path d="M92,-22 100,-23 108,-23 110,-18 109,-11 105,-8 103,-1 98,-5 97,-16 92,-20Z" fill="#ffc440" clip-path="url(#lc)"/>
<path d="M-118,-33 -105,-32 -97,-28 -97,-20 -92,-18 -88,-21 -87,-15 -83,-10 -78,-8 -85,-13 -95,-15 -105,-19 -112,-24 -115,-30Z" fill="#ffea40" clip-path="url(#lc)"/>
<path d="M-61,74.5 -55,73.3 -48,72.8 -40,72.6 -30,72.5 -20,71.8 -17,72.2 -22,73.5 -28,74.8 -34,75.9 -40,77 -46,77.9 -52,77.6 -58,77.2 -62,77Z" fill="#40d0ff"/>
<path d="M-180,72.5 -168,73 -160,74 -155,76.3 -158,77.6 -162,78.3 -170,78.6 -180,78.8Z" fill="#40d0ff"/>
<path d="M180,72.5 172,72 167,73.5 165.8,75.4 164,77 166,78.7 170,78.6 180,78.8Z" fill="#40d0ff"/>
<path d="M96,-24 98,-32 101,-38 105,-43 112,-47 120,-47 128,-45 135,-44 142,-41 143,-37 136,-33 128,-30 123,-25 118,-21 110,-20 104,-20 99,-21Z" fill="#ff7a40"/>
<path d="M104,-30 105,-37 107,-42 110,-46 116,-47 121,-44 124,-40 122,-37 121,-33 121.5,-30 119,-26 114,-24 109,-25 105,-27Z" fill="#ff2040"/>
<path d="M-15,-44 -15,-50 -8,-54 -5,-57 5,-58 15,-57 30,-56 45,-55 50,-50 45,-46 35,-45 25,-44 15,-43.5 5,-43 -5,-43Z" fill="#ff8040"/>
<path d="M-5,-50 -3,-54 0,-55 8,-55 18,-54.5 28,-54 36,-52 36,-48 28,-46.5 18,-45.5 10,-45 3,-45.5 -1,-46.5 -3,-48Z" fill="#ff3a40"/>
<path d="M-106,-29 -105,-40 -100,-47 -92,-49.5 -80,-48 -68,-47 -66,-44 -70,-41 -76,-35 -80,-30 -82,-26 -90,-28 -97,-26Z" fill="#ffa040" clip-path="url(#lc)"/>
<path d="M-95,-38 -93,-45 -86,-48 -76,-48 -67,-47 -62,-45.5 -64,-43 -70,-41 -74,-38.5 -80,-36.5 -88,-36Z" fill="#ff6040"/>
<path d="M-130,-44 -129,-48.5 -125,-50.5 -120,-50 -117,-47 -118,-42 -121,-39 -125,-39.5Z" fill="#ff7340"/>
<path d="M72,-22.5 72.5,-18 74,-14 76.5,-8 78.5,-8 80.5,-11 80.5,-15 83,-17.5 86.5,-20 87.5,-22.5 84,-24 78,-24.5 74,-24Z" fill="#ff6040" clip-path="url(#lc)"/>
<path d="M44,-26 45,-33 50,-34 54,-30 57,-26 54,-23 49,-23Z" fill="#ff8640" clip-path="url(#lc)"/>
<path d="M24,22 23,29 27,31.5 31,30 32.5,26 31.5,22 28,20Z" fill="#ffca40" clip-path="url(#lc)"/>
<path d="M-50,3 -44,2 -35,5 -35,10 -39,17 -41,22 -45,24.5 -50,26.5 -52,22 -49,12Z" fill="#ffe640" clip-path="url(#lc)"/>
<path d="M-80,-2 -78,-11 -70,-12.5 -60,-11 -55,-6 -60,0 -70,3Z" fill="#ffca40" clip-path="url(#lc)"/>
<path d="M110,9 156,9 156,45 110,45Z" fill="#6dff40" clip-path="url(#lc)"/>
<path d="M42,11 51,11 51,26 42,26Z" fill="#6dff40" clip-path="url(#lc)"/>
<use href="#coast"/>
</svg>
<rect x="26.3" y="31.6" width="307.3" height="153.65" fill="none" stroke="#000" stroke-width="1.4"/>
<path d="M20.3,31.6H26.3M26.3,185.25V190.85M20.3,70.01H26.3M103.12,185.25V190.85M20.3,108.43H26.3M179.95,185.25V190.85M20.3,146.84H26.3M256.78,185.25V190.85M20.3,185.25H26.3M333.6,185.25V190.85" stroke="#000" stroke-width="1.2" fill="none"/>
<text x="16" y="34.5" class="ax" text-anchor="end">90°N</text>
<text x="16" y="72.91" class="ax" text-anchor="end">45°N</text>
<text x="16" y="111.33" class="ax" text-anchor="end">0°</text>
<text x="16" y="149.74" class="ax" text-anchor="end">45°S</text>
<text x="16" y="188.15" class="ax" text-anchor="end">90°S</text>
<text x="26.3" y="201.95" class="ax" text-anchor="middle">180°</text>
<text x="103.12" y="201.95" class="ax" text-anchor="middle">90°W</text>
<text x="179.95" y="201.95" class="ax" text-anchor="middle">0°</text>
<text x="256.78" y="201.95" class="ax" text-anchor="middle">90°E</text>
<text x="333.6" y="201.95" class="ax" text-anchor="middle">180°</text>
<rect x="30.2" y="161.45" width="75.16" height="20.2" fill="#fff" stroke="#000" stroke-width="1"/>
<text x="33.3" y="175.45" class="pl">(a) SSP1-1.9</text>
<rect x="19" y="203.85" width="25.1" height="11.1" fill="#003cff"/>
<rect x="43.8" y="203.85" width="25.1" height="11.1" fill="#0080ff"/>
<rect x="68.6" y="203.85" width="25.1" height="11.1" fill="#00a0ff"/>
<rect x="93.4" y="203.85" width="25.1" height="11.1" fill="#40c0ff"/>
<rect x="118.2" y="203.85" width="25.1" height="11.1" fill="#40e0ff"/>
<rect x="143" y="203.85" width="25.1" height="11.1" fill="#40ff40"/>
<rect x="167.8" y="203.85" width="25.1" height="11.1" fill="#80ff40"/>
<rect x="192.6" y="203.85" width="25.1" height="11.1" fill="#c0ff40"/>
<rect x="217.4" y="203.85" width="25.1" height="11.1" fill="#ffff40"/>
<rect x="242.2" y="203.85" width="25.1" height="11.1" fill="#ffdc40"/>
<rect x="267" y="203.85" width="25.1" height="11.1" fill="#ffa040"/>
<rect x="291.8" y="203.85" width="25.1" height="11.1" fill="#ff6040"/>
<rect x="316.6" y="203.85" width="24.8" height="11.1" fill="#ff2040"/>
<text x="43.8" y="226.65" class="cb" text-anchor="middle">423</text>
<text x="93.4" y="226.65" class="cb" text-anchor="middle">427</text>
<text x="143" y="226.65" class="cb" text-anchor="middle">431</text>
<text x="192.6" y="226.65" class="cb" text-anchor="middle">435</text>
<text x="242.2" y="226.65" class="cb" text-anchor="middle">439</text>
<text x="291.8" y="226.65" class="cb" text-anchor="middle">443</text>
<svg x="369.9" y="31.6" width="307.3" height="153.65" viewBox="-180 -90 360 180" preserveAspectRatio="none">
<rect x="-180" y="-90" width="360" height="32.5" fill="#ffdc40"/>
<rect x="-180" y="-57.55" width="360" height="5.44" fill="#ffa040"/>
<rect x="-180" y="-52.16" width="360" height="2.74" fill="#ffdc40"/>
<rect x="-180" y="-49.47" width="360" height="9.07" fill="#ffa040"/>
<rect x="-180" y="-40.45" width="360" height="12.94" fill="#ffdc40"/>
<rect x="-180" y="-27.56" width="360" height="2.74" fill="#c0ff40"/>
<rect x="-180" y="-24.86" width="360" height="4.85" fill="#ffff40"/>
<rect x="-180" y="-20.06" width="360" height="11.18" fill="#c0ff40"/>
<rect x="-180" y="-8.93" width="360" height="3.8" fill="#ffff40"/>
<rect x="-180" y="-5.18" width="360" height="13.87" fill="#c0ff40"/>
<rect x="-180" y="8.64" width="360" height="23.36" fill="#40ff40"/>
<rect x="-180" y="31.95" width="360" height="21.61" fill="#40e0ff"/>
<rect x="-180" y="53.51" width="360" height="6.26" fill="#40ff40"/>
<rect x="-180" y="59.72" width="360" height="2.04" fill="#40f0a0"/>
<rect x="-180" y="61.71" width="360" height="4.15" fill="#40ff40"/>
<rect x="-180" y="65.81" width="360" height="2.16" fill="#40e0ff"/>
<rect x="-180" y="67.92" width="360" height="22.13" fill="#40ff40"/>
<path d="M58,-24 66,-25.5 72,-23 80,-17 88,-22.5 94,-20 99,-14 97,-7 88,-5 80,-3 72,-6 64,-12 56,-18Z" fill="#ffff40"/>
<g clip-path="url(#shc)"><use href="#landp" fill="none" stroke="#ffff40" stroke-opacity="0.35" stroke-width="9" stroke-linejoin="round"/></g>
<g clip-path="url(#lc)">
<rect x="-180" y="-90" width="360" height="26" fill="#ffdc40"/>
<rect x="-180" y="-64" width="360" height="12" fill="#ffca40"/>
<rect x="-180" y="-52" width="360" height="12" fill="#ffa040"/>
<rect x="-180" y="-40" width="360" height="10" fill="#ffc440"/>
<rect x="-180" y="-30" width="360" height="3" fill="#ffdc40"/>
<rect x="-180" y="-27" width="360" height="7" fill="#fff440"/>
<rect x="-180" y="-20" width="360" height="15" fill="#d6ff40"/>
<rect x="-180" y="-5" width="360" height="15" fill="#d9ff40"/>
<rect x="-180" y="10" width="360" height="15" fill="#d9ff40"/>
<rect x="-180" y="25" width="360" height="10" fill="#a0ff40"/>
<rect x="-180" y="35" width="360" height="23" fill="#60ff40"/>
<rect x="-180" y="60" width="360" height="30" fill="#40e0ff"/>
</g>
<path d="M-75,-59 -10,-59 -10,-84 -75,-84Z" fill="#ffdc40" clip-path="url(#lc)"/>
<path d="M20,-51 20,-72 180,-72 180,-60 150,-56 135,-54 120,-52 90,-51 60,-51Z" fill="#ffbc40" clip-path="url(#lc)"/>
<path d="M28,-43 28,-51 60,-51 90,-51 125,-51 125,-45 100,-43 60,-43Z" fill="#ff8640" clip-path="url(#lc)"/>
<path d="M68,-23 70,-30 74,-33 80,-31 86,-28 90,-26.5 91,-24 88,-21.5 83,-19 79,-17 74,-18 71,-20Z" fill="#ff9340" clip-path="url(#lc)"/>
<path d="M35,-30 48,-30 56,-26 59,-22 52,-16 43,-13 39,-20 35,-27Z" fill="#ffe640" clip-path="url(#lc)"/>
<path d="M92,-22 100,-23 108,-23 110,-18 109,-11 105,-8 103,-1 98,-5 97,-16 92,-20Z" fill="#ffca40" clip-path="url(#lc)"/>
<path d="M-118,-33 -105,-32 -97,-28 -97,-20 -92,-18 -88,-21 -87,-15 -83,-10 -78,-8 -85,-13 -95,-15 -105,-19 -112,-24 -115,-30Z" fill="#fff440" clip-path="url(#lc)"/>
<path d="M-61,74.5 -55,73.3 -48,72.8 -40,72.6 -30,72.5 -20,71.8 -17,72.2 -22,73.5 -28,74.8 -34,75.9 -40,77 -46,77.9 -52,77.6 -58,77.2 -62,77Z" fill="#40c0ff"/>
<path d="M-180,72.5 -168,73 -160,74 -155,76.3 -158,77.6 -162,78.3 -170,78.6 -180,78.8Z" fill="#40c0ff"/>
<path d="M180,72.5 172,72 167,73.5 165.8,75.4 164,77 166,78.7 170,78.6 180,78.8Z" fill="#40c0ff"/>
<path d="M96,-24 98,-32 101,-38 105,-43 112,-47 120,-47 128,-45 135,-44 142,-41 143,-37 136,-33 128,-30 123,-25 118,-21 110,-20 104,-20 99,-21Z" fill="#ff7a40"/>
<path d="M104,-30 105,-37 107,-42 110,-46 116,-47 121,-44 124,-40 122,-37 121,-33 121.5,-30 119,-26 114,-24 109,-25 105,-27Z" fill="#ff2040"/>
<path d="M-15,-44 -15,-50 -8,-54 -5,-57 5,-58 15,-57 30,-56 45,-55 50,-50 45,-46 35,-45 25,-44 15,-43.5 5,-43 -5,-43Z" fill="#ff8040"/>
<path d="M-5,-50 -3,-54 0,-55 8,-55 18,-54.5 28,-54 36,-52 36,-48 28,-46.5 18,-45.5 10,-45 3,-45.5 -1,-46.5 -3,-48Z" fill="#ff3340"/>
<path d="M-106,-29 -105,-40 -100,-47 -92,-49.5 -80,-48 -68,-47 -66,-44 -70,-41 -76,-35 -80,-30 -82,-26 -90,-28 -97,-26Z" fill="#ffa040" clip-path="url(#lc)"/>
<path d="M-95,-38 -93,-45 -86,-48 -76,-48 -67,-47 -62,-45.5 -64,-43 -70,-41 -74,-38.5 -80,-36.5 -88,-36Z" fill="#ff6040"/>
<path d="M-130,-44 -129,-48.5 -125,-50.5 -120,-50 -117,-47 -118,-42 -121,-39 -125,-39.5Z" fill="#ff8d40"/>
<path d="M72,-22.5 72.5,-18 74,-14 76.5,-8 78.5,-8 80.5,-11 80.5,-15 83,-17.5 86.5,-20 87.5,-22.5 84,-24 78,-24.5 74,-24Z" fill="#ff6040" clip-path="url(#lc)"/>
<path d="M44,-26 45,-33 50,-34 54,-30 57,-26 54,-23 49,-23Z" fill="#ff8d40" clip-path="url(#lc)"/>
<path d="M24,22 23,29 27,31.5 31,30 32.5,26 31.5,22 28,20Z" fill="#ffee40" clip-path="url(#lc)"/>
<path d="M-50,3 -44,2 -35,5 -35,10 -39,17 -41,22 -45,24.5 -50,26.5 -52,22 -49,12Z" fill="#ffee40" clip-path="url(#lc)"/>
<path d="M-80,-2 -78,-11 -70,-12.5 -60,-11 -55,-6 -60,0 -70,3Z" fill="#ffee40" clip-path="url(#lc)"/>
<path d="M110,9 156,9 156,45 110,45Z" fill="#5aff40" clip-path="url(#lc)"/>
<path d="M42,11 51,11 51,26 42,26Z" fill="#5aff40" clip-path="url(#lc)"/>
<use href="#coast"/>
</svg>
<rect x="369.9" y="31.6" width="307.3" height="153.65" fill="none" stroke="#000" stroke-width="1.4"/>
<path d="M363.9,31.6H369.9M369.9,185.25V190.85M363.9,70.01H369.9M446.72,185.25V190.85M363.9,108.43H369.9M523.55,185.25V190.85M363.9,146.84H369.9M600.38,185.25V190.85M363.9,185.25H369.9M677.2,185.25V190.85" stroke="#000" stroke-width="1.2" fill="none"/>
<text x="359.6" y="34.5" class="ax" text-anchor="end">90°N</text>
<text x="359.6" y="72.91" class="ax" text-anchor="end">45°N</text>
<text x="359.6" y="111.33" class="ax" text-anchor="end">0°</text>
<text x="359.6" y="149.74" class="ax" text-anchor="end">45°S</text>
<text x="359.6" y="188.15" class="ax" text-anchor="end">90°S</text>
<text x="369.9" y="201.95" class="ax" text-anchor="middle">180°</text>
<text x="446.72" y="201.95" class="ax" text-anchor="middle">90°W</text>
<text x="523.55" y="201.95" class="ax" text-anchor="middle">0°</text>
<text x="600.38" y="201.95" class="ax" text-anchor="middle">90°E</text>
<text x="677.2" y="201.95" class="ax" text-anchor="middle">180°</text>
<rect x="373.8" y="161.45" width="75.16" height="20.2" fill="#fff" stroke="#000" stroke-width="1"/>
<text x="376.9" y="175.45" class="pl">(b) SSP1-2.6</text>
<rect x="362" y="203.85" width="25.1" height="11.1" fill="#003cff"/>
<rect x="386.8" y="203.85" width="25.1" height="11.1" fill="#0080ff"/>
<rect x="411.6" y="203.85" width="25.1" height="11.1" fill="#00a0ff"/>
<rect x="436.4" y="203.85" width="25.1" height="11.1" fill="#40c0ff"/>
<rect x="461.2" y="203.85" width="25.1" height="11.1" fill="#40e0ff"/>
<rect x="486" y="203.85" width="25.1" height="11.1" fill="#40ff40"/>
<rect x="510.8" y="203.85" width="25.1" height="11.1" fill="#80ff40"/>
<rect x="535.6" y="203.85" width="25.1" height="11.1" fill="#c0ff40"/>
<rect x="560.4" y="203.85" width="25.1" height="11.1" fill="#ffff40"/>
<rect x="585.2" y="203.85" width="25.1" height="11.1" fill="#ffdc40"/>
<rect x="610" y="203.85" width="25.1" height="11.1" fill="#ffa040"/>
<rect x="634.8" y="203.85" width="25.1" height="11.1" fill="#ff6040"/>
<rect x="659.6" y="203.85" width="24.8" height="11.1" fill="#ff2040"/>
<text x="386.8" y="226.65" class="cb" text-anchor="middle">456</text>
<text x="436.4" y="226.65" class="cb" text-anchor="middle">460</text>
<text x="486" y="226.65" class="cb" text-anchor="middle">464</text>
<text x="535.6" y="226.65" class="cb" text-anchor="middle">468</text>
<text x="585.2" y="226.65" class="cb" text-anchor="middle">472</text>
<text x="634.8" y="226.65" class="cb" text-anchor="middle">476</text>
<svg x="26.3" y="237.27" width="307.3" height="153.65" viewBox="-180 -90 360 180" preserveAspectRatio="none">
<rect x="-180" y="-90" width="360" height="32.38" fill="#ffff40"/>
<rect x="-180" y="-57.67" width="360" height="4.85" fill="#ffdc40"/>
<rect x="-180" y="-52.86" width="360" height="3.8" fill="#ffff40"/>
<rect x="-180" y="-49.11" width="360" height="9.07" fill="#ffdc40"/>
<rect x="-180" y="-40.09" width="360" height="12.94" fill="#ffff40"/>
<rect x="-180" y="-27.21" width="360" height="2.74" fill="#c0ff40"/>
<rect x="-180" y="-24.51" width="360" height="2.63" fill="#e0ff40"/>
<rect x="-180" y="-21.94" width="360" height="26.76" fill="#c0ff40"/>
<rect x="-180" y="4.77" width="360" height="4.85" fill="#80ff40"/>
<rect x="-180" y="9.58" width="360" height="35.31" fill="#40ff40"/>
<rect x="-180" y="44.84" width="360" height="1.92" fill="#40f0a0"/>
<rect x="-180" y="46.71" width="360" height="2.39" fill="#40ff40"/>
<rect x="-180" y="49.06" width="360" height="2.39" fill="#40e0ff"/>
<rect x="-180" y="51.4" width="360" height="38.65" fill="#40ff40"/>
<path d="M58,-24 66,-25.5 72,-23 80,-17 88,-22.5 94,-20 99,-14 97,-7 88,-5 80,-3 72,-6 64,-12 56,-18Z" fill="#e0ff40"/>
<g clip-path="url(#shc)"><use href="#landp" fill="none" stroke="#ffff40" stroke-opacity="0.3" stroke-width="9" stroke-linejoin="round"/></g>
<g clip-path="url(#lc)">
<rect x="-180" y="-90" width="360" height="26" fill="#ffff40"/>
<rect x="-180" y="-64" width="360" height="12" fill="#ffee40"/>
<rect x="-180" y="-52" width="360" height="12" fill="#ffdc40"/>
<rect x="-180" y="-40" width="360" height="10" fill="#ffea40"/>
<rect x="-180" y="-30" width="360" height="10" fill="#ffff40"/>
<rect x="-180" y="-20" width="360" height="15" fill="#d9ff40"/>
<rect x="-180" y="-5" width="360" height="15" fill="#d9ff40"/>
<rect x="-180" y="10" width="360" height="15" fill="#a6ff40"/>
<rect x="-180" y="25" width="360" height="10" fill="#60ff40"/>
<rect x="-180" y="35" width="360" height="55" fill="#40ff40"/>
</g>
<path d="M-75,-59 -10,-59 -10,-84 -75,-84Z" fill="#ffff40" clip-path="url(#lc)"/>
<path d="M20,-51 20,-72 180,-72 180,-60 150,-56 135,-54 120,-52 90,-51 60,-51Z" fill="#ffee40" clip-path="url(#lc)"/>
<path d="M28,-43 28,-51 60,-51 90,-51 125,-51 125,-45 100,-43 60,-43Z" fill="#ffbe40" clip-path="url(#lc)"/>
<path d="M68,-23 70,-30 74,-33 80,-31 86,-28 90,-26.5 91,-24 88,-21.5 83,-19 79,-17 74,-18 71,-20Z" fill="#ffc440" clip-path="url(#lc)"/>
<path d="M35,-30 48,-30 56,-26 59,-22 52,-16 43,-13 39,-20 35,-27Z" fill="#ffff40" clip-path="url(#lc)"/>
<path d="M92,-22 100,-23 108,-23 110,-18 109,-11 105,-8 103,-1 98,-5 97,-16 92,-20Z" fill="#ffee40" clip-path="url(#lc)"/>
<path d="M-118,-33 -105,-32 -97,-28 -97,-20 -92,-18 -88,-21 -87,-15 -83,-10 -78,-8 -85,-13 -95,-15 -105,-19 -112,-24 -115,-30Z" fill="#ffff40" clip-path="url(#lc)"/>
<path d="M-180,90 -180,84.3 -170,84.1 -162,83.8 -158,83.1 -155,82.5 -150,82 -145,81.3 -140,80.7 -135,80.1 -130,79.8 -125,79.5 -120,79.5 -115,79.7 -110,80 -105,79.8 -100,79.1 -95,78.5 -88,78.1 -82,78.3 -76,76.5 -73,76 -70,74 -67,72.5 -64,70.7 -60,69.1 -56.5,68.4 -58.5,69.7 -62,71.3 -64,73.2 -61,76.5 -61.5,78 -64,80 -66.4,82.1 -62,82.5 -58,82.7 -52,83.1 -46,83.4 -40,82.5 -34,81.4 -28,80.3 -22,79 -17.3,77.7 -12,76.8 -6,76.3 0,76 6,75.7 12,75.5 18,75.5 24,75.3 30,75.1 35,74.7 40,74.3 45,73 50,72 54,71.3 58,72.3 62,72.9 66,73.3 69,73.8 70.7,74.7 73,75 75,74.5 78,74 82,72.8 86,72.3 90,72 95,71.8 100,71.5 103,71.3 107,71.8 110,71.9 115,72.3 120,72.3 125,71.9 130,71.7 135,71.5 140,72.1 143,72.5 147,73.5 152,74.1 156,74.7 160,75.5 163,76.1 167,76.5 170,77 171,77.8 168,79 166,80 165.8,80.9 164,82.5 163,84.5 166,84.2 170,84.1 175,84.1 180,84.3 180,90Z" fill="#40e0ff" clip-path="url(#lc)"/>
<path d="M-61,74.5 -55,73.3 -48,72.8 -40,72.6 -30,72.5 -20,71.8 -17,72.2 -22,73.5 -28,74.8 -34,75.9 -40,77 -46,77.9 -52,77.6 -58,77.2 -62,77Z" fill="#40d0ff"/>
<path d="M-180,72.5 -168,73 -160,74 -155,76.3 -158,77.6 -162,78.3 -170,78.6 -180,78.8Z" fill="#40d0ff"/>
<path d="M180,72.5 172,72 167,73.5 165.8,75.4 164,77 166,78.7 170,78.6 180,78.8Z" fill="#40d0ff"/>
<path d="M96,-24 98,-32 101,-38 105,-43 112,-47 120,-47 128,-45 135,-44 142,-41 143,-37 136,-33 128,-30 123,-25 118,-21 110,-20 104,-20 99,-21Z" fill="#ffb840"/>
<path d="M104,-30 105,-37 107,-42 110,-46 116,-47 121,-44 124,-40 122,-37 121,-33 121.5,-30 119,-26 114,-24 109,-25 105,-27Z" fill="#ff8040"/>
<path d="M-15,-44 -15,-50 -8,-54 -5,-57 5,-58 15,-57 30,-56 45,-55 50,-50 45,-46 35,-45 25,-44 15,-43.5 5,-43 -5,-43Z" fill="#ffb840"/>
<path d="M-5,-50 -3,-54 0,-55 8,-55 18,-54.5 28,-54 36,-52 36,-48 28,-46.5 18,-45.5 10,-45 3,-45.5 -1,-46.5 -3,-48Z" fill="#ff8040"/>
<path d="M-106,-29 -105,-40 -100,-47 -92,-49.5 -80,-48 -68,-47 -66,-44 -70,-41 -76,-35 -80,-30 -82,-26 -90,-28 -97,-26Z" fill="#ffe340" clip-path="url(#lc)"/>
<path d="M-95,-38 -93,-45 -86,-48 -76,-48 -67,-47 -62,-45.5 -64,-43 -70,-41 -74,-38.5 -80,-36.5 -88,-36Z" fill="#ffc440"/>
<path d="M-130,-44 -129,-48.5 -125,-50.5 -120,-50 -117,-47 -118,-42 -121,-39 -125,-39.5Z" fill="#ffdc40"/>
<path d="M72,-22.5 72.5,-18 74,-14 76.5,-8 78.5,-8 80.5,-11 80.5,-15 83,-17.5 86.5,-20 87.5,-22.5 84,-24 78,-24.5 74,-24Z" fill="#ffb840" clip-path="url(#lc)"/>
<path d="M44,-26 45,-33 50,-34 54,-30 57,-26 54,-23 49,-23Z" fill="#ffca40" clip-path="url(#lc)"/>
<path d="M24,22 23,29 27,31.5 31,30 32.5,26 31.5,22 28,20Z" fill="#ffee40" clip-path="url(#lc)"/>
<path d="M-50,3 -44,2 -35,5 -35,10 -39,17 -41,22 -45,24.5 -50,26.5 -52,22 -49,12Z" fill="#ffee40" clip-path="url(#lc)"/>
<path d="M-80,-2 -78,-11 -70,-12.5 -60,-11 -55,-6 -60,0 -70,3Z" fill="#ffee40" clip-path="url(#lc)"/>
<path d="M110,9 156,9 156,45 110,45Z" fill="#53ff40" clip-path="url(#lc)"/>
<path d="M42,11 51,11 51,26 42,26Z" fill="#53ff40" clip-path="url(#lc)"/>
<use href="#coast"/>
</svg>
<rect x="26.3" y="237.27" width="307.3" height="153.65" fill="none" stroke="#000" stroke-width="1.4"/>
<path d="M20.3,237.27H26.3M26.3,390.92V396.52M20.3,275.68H26.3M103.12,390.92V396.52M20.3,314.09H26.3M179.95,390.92V396.52M20.3,352.51H26.3M256.78,390.92V396.52M20.3,390.92H26.3M333.6,390.92V396.52" stroke="#000" stroke-width="1.2" fill="none"/>
<text x="16" y="240.17" class="ax" text-anchor="end">90°N</text>
<text x="16" y="278.58" class="ax" text-anchor="end">45°N</text>
<text x="16" y="316.99" class="ax" text-anchor="end">0°</text>
<text x="16" y="355.41" class="ax" text-anchor="end">45°S</text>
<text x="16" y="393.82" class="ax" text-anchor="end">90°S</text>
<text x="26.3" y="407.62" class="ax" text-anchor="middle">180°</text>
<text x="103.12" y="407.62" class="ax" text-anchor="middle">90°W</text>
<text x="179.95" y="407.62" class="ax" text-anchor="middle">0°</text>
<text x="256.78" y="407.62" class="ax" text-anchor="middle">90°E</text>
<text x="333.6" y="407.62" class="ax" text-anchor="middle">180°</text>
<rect x="30.2" y="367.12" width="74.49" height="20.2" fill="#fff" stroke="#000" stroke-width="1"/>
<text x="33.3" y="381.12" class="pl">(c) SSP2-4.5</text>
<rect x="19" y="409.52" width="25.1" height="11.1" fill="#003cff"/>
<rect x="43.8" y="409.52" width="25.1" height="11.1" fill="#0080ff"/>
<rect x="68.6" y="409.52" width="25.1" height="11.1" fill="#00a0ff"/>
<rect x="93.4" y="409.52" width="25.1" height="11.1" fill="#40c0ff"/>
<rect x="118.2" y="409.52" width="25.1" height="11.1" fill="#40e0ff"/>
<rect x="143" y="409.52" width="25.1" height="11.1" fill="#40ff40"/>
<rect x="167.8" y="409.52" width="25.1" height="11.1" fill="#80ff40"/>
<rect x="192.6" y="409.52" width="25.1" height="11.1" fill="#c0ff40"/>
<rect x="217.4" y="409.52" width="25.1" height="11.1" fill="#ffff40"/>
<rect x="242.2" y="409.52" width="25.1" height="11.1" fill="#ffdc40"/>
<rect x="267" y="409.52" width="25.1" height="11.1" fill="#ffa040"/>
<rect x="291.8" y="409.52" width="25.1" height="11.1" fill="#ff6040"/>
<rect x="316.6" y="409.52" width="24.8" height="11.1" fill="#ff2040"/>
<text x="43.8" y="432.32" class="cb" text-anchor="middle">490</text>
<text x="93.4" y="432.32" class="cb" text-anchor="middle">496</text>
<text x="143" y="432.32" class="cb" text-anchor="middle">502</text>
<text x="192.6" y="432.32" class="cb" text-anchor="middle">508</text>
<text x="242.2" y="432.32" class="cb" text-anchor="middle">514</text>
<text x="291.8" y="432.32" class="cb" text-anchor="middle">520</text>
<svg x="369.9" y="237.27" width="307.3" height="153.65" viewBox="-180 -90 360 180" preserveAspectRatio="none">
<rect x="-180" y="-90" width="360" height="31.21" fill="#ffa040"/>
<rect x="-180" y="-58.84" width="360" height="6.02" fill="#ff6040"/>
<rect x="-180" y="-52.86" width="360" height="2.63" fill="#ffa040"/>
<rect x="-180" y="-50.29" width="360" height="10.24" fill="#ff6040"/>
<rect x="-180" y="-40.09" width="360" height="11.3" fill="#ffa040"/>
<rect x="-180" y="-28.85" width="360" height="3.8" fill="#ffee40"/>
<rect x="-180" y="-25.1" width="360" height="3.21" fill="#ffdc40"/>
<rect x="-180" y="-21.94" width="360" height="13.99" fill="#ffff40"/>
<rect x="-180" y="-8" width="360" height="2.16" fill="#ffdc40"/>
<rect x="-180" y="-5.89" width="360" height="9.54" fill="#ffff40"/>
<rect x="-180" y="3.6" width="360" height="5.44" fill="#c0ff40"/>
<rect x="-180" y="8.99" width="360" height="13.17" fill="#40ff40"/>
<rect x="-180" y="22.11" width="360" height="4.27" fill="#60ff40"/>
<rect x="-180" y="26.33" width="360" height="7.78" fill="#40ff40"/>
<rect x="-180" y="34.06" width="360" height="1.92" fill="#40f0a0"/>
<rect x="-180" y="35.94" width="360" height="16.22" fill="#40e0ff"/>
<rect x="-180" y="52.1" width="360" height="37.95" fill="#40ff40"/>
<path d="M-98,-30 -84,-30.5 -81,-26 -80,-22 -86,-19 -95,-18 -98,-21Z" fill="#ffb840"/>
<path d="M58,-24 66,-25.5 72,-23 80,-17 88,-22.5 94,-20 99,-14 97,-7 88,-5 80,-3 72,-6 64,-12 56,-18Z" fill="#ffdc40"/>
<g clip-path="url(#shc)"><use href="#landp" fill="none" stroke="#ffff40" stroke-opacity="0.35" stroke-width="9" stroke-linejoin="round"/></g>
<g clip-path="url(#lc)">
<rect x="-180" y="-90" width="360" height="26" fill="#ffa040"/>
<rect x="-180" y="-64" width="360" height="12" fill="#ff8040"/>
<rect x="-180" y="-52" width="360" height="14" fill="#ff6040"/>
<rect x="-180" y="-38" width="360" height="8" fill="#ff8640"/>
<rect x="-180" y="-30" width="360" height="10" fill="#ffff40"/>
<rect x="-180" y="-20" width="360" height="15" fill="#f2ff40"/>
<rect x="-180" y="-5" width="360" height="15" fill="#fff840"/>
<rect x="-180" y="10" width="360" height="15" fill="#e0ff40"/>
<rect x="-180" y="25" width="360" height="10" fill="#a0ff40"/>
<rect x="-180" y="35" width="360" height="55" fill="#53ff40"/>
</g>
<path d="M-75,-59 -10,-59 -10,-84 -75,-84Z" fill="#ffa040" clip-path="url(#lc)"/>
<path d="M20,-51 20,-72 180,-72 180,-60 150,-56 135,-54 120,-52 90,-51 60,-51Z" fill="#ff8040" clip-path="url(#lc)"/>
<path d="M28,-43 28,-51 60,-51 90,-51 125,-51 125,-45 100,-43 60,-43Z" fill="#ff4d40" clip-path="url(#lc)"/>
<path d="M68,-23 70,-30 74,-33 80,-31 86,-28 90,-26.5 91,-24 88,-21.5 83,-19 79,-17 74,-18 71,-20Z" fill="#ff5340" clip-path="url(#lc)"/>
<path d="M35,-30 48,-30 56,-26 59,-22 52,-16 43,-13 39,-20 35,-27Z" fill="#ffca40" clip-path="url(#lc)"/>
<path d="M92,-22 100,-23 108,-23 110,-18 109,-11 105,-8 103,-1 98,-5 97,-16 92,-20Z" fill="#ffb240" clip-path="url(#lc)"/>
<path d="M-118,-33 -105,-32 -97,-28 -97,-20 -92,-18 -88,-21 -87,-15 -83,-10 -78,-8 -85,-13 -95,-15 -105,-19 -112,-24 -115,-30Z" fill="#ffca40" clip-path="url(#lc)"/>
<path d="M-180,90 -180,81.8 -170,81.6 -162,81.3 -158,80.6 -155,80 -150,79.5 -145,78.8 -140,78.2 -135,77.6 -130,77.3 -125,77 -120,77 -115,77.2 -110,77.5 -105,77.3 -100,76.6 -95,76 -88,75.6 -82,75.8 -76,74 -73,73.5 -70,71.5 -67,70 -64,68.2 -60,66.6 -56.5,65.9 -58.5,67.2 -62,68.8 -64,70.7 -61,74 -61.5,75.5 -64,77.5 -66.4,79.6 -62,80 -58,80.2 -52,80.6 -46,80.9 -40,80 -34,78.9 -28,77.8 -22,76.5 -17.3,75.2 -12,74.3 -6,73.8 0,73.5 6,73.2 12,73 18,73 24,72.8 30,72.6 35,72.2 40,71.8 45,70.5 50,69.5 54,68.8 58,69.8 62,70.4 66,70.8 69,71.3 70.7,72.2 73,72.5 75,72 78,71.5 82,70.3 86,69.8 90,69.5 95,69.3 100,69 103,68.8 107,69.3 110,69.4 115,69.8 120,69.8 125,69.4 130,69.2 135,69 140,69.6 143,70 147,71 152,71.6 156,72.2 160,73 163,73.6 167,74 170,74.5 171,75.3 168,76.5 166,77.5 165.8,78.4 164,80 163,82 166,81.7 170,81.6 175,81.6 180,81.8 180,90Z" fill="#40ff40" clip-path="url(#lc)"/>
<path d="M-180,90 -180,84.3 -170,84.1 -162,83.8 -158,83.1 -155,82.5 -150,82 -145,81.3 -140,80.7 -135,80.1 -130,79.8 -125,79.5 -120,79.5 -115,79.7 -110,80 -105,79.8 -100,79.1 -95,78.5 -88,78.1 -82,78.3 -76,76.5 -73,76 -70,74 -67,72.5 -64,70.7 -60,69.1 -56.5,68.4 -58.5,69.7 -62,71.3 -64,73.2 -61,76.5 -61.5,78 -64,80 -66.4,82.1 -62,82.5 -58,82.7 -52,83.1 -46,83.4 -40,82.5 -34,81.4 -28,80.3 -22,79 -17.3,77.7 -12,76.8 -6,76.3 0,76 6,75.7 12,75.5 18,75.5 24,75.3 30,75.1 35,74.7 40,74.3 45,73 50,72 54,71.3 58,72.3 62,72.9 66,73.3 69,73.8 70.7,74.7 73,75 75,74.5 78,74 82,72.8 86,72.3 90,72 95,71.8 100,71.5 103,71.3 107,71.8 110,71.9 115,72.3 120,72.3 125,71.9 130,71.7 135,71.5 140,72.1 143,72.5 147,73.5 152,74.1 156,74.7 160,75.5 163,76.1 167,76.5 170,77 171,77.8 168,79 166,80 165.8,80.9 164,82.5 163,84.5 166,84.2 170,84.1 175,84.1 180,84.3 180,90Z" fill="#40e0ff" clip-path="url(#lc)"/>
<path d="M-61,74.5 -55,73.3 -48,72.8 -40,72.6 -30,72.5 -20,71.8 -17,72.2 -22,73.5 -28,74.8 -34,75.9 -40,77 -46,77.9 -52,77.6 -58,77.2 -62,77Z" fill="#40d0ff"/>
<path d="M-180,72.5 -168,73 -160,74 -155,76.3 -158,77.6 -162,78.3 -170,78.6 -180,78.8Z" fill="#40d0ff"/>
<path d="M180,72.5 172,72 167,73.5 165.8,75.4 164,77 166,78.7 170,78.6 180,78.8Z" fill="#40d0ff"/>
<path d="M96,-24 98,-32 101,-38 105,-43 112,-47 120,-47 128,-45 135,-44 142,-41 143,-37 136,-33 128,-30 123,-25 118,-21 110,-20 104,-20 99,-21Z" fill="#ff3040"/>
<path d="M104,-30 105,-37 107,-42 110,-46 116,-47 121,-44 124,-40 122,-37 121,-33 121.5,-30 119,-26 114,-24 109,-25 105,-27Z" fill="#ff2040"/>
<path d="M-15,-44 -15,-50 -8,-54 -5,-57 5,-58 15,-57 30,-56 45,-55 50,-50 45,-46 35,-45 25,-44 15,-43.5 5,-43 -5,-43Z" fill="#ff3a40"/>
<path d="M-5,-50 -3,-54 0,-55 8,-55 18,-54.5 28,-54 36,-52 36,-48 28,-46.5 18,-45.5 10,-45 3,-45.5 -1,-46.5 -3,-48Z" fill="#ff2040"/>
<path d="M-106,-29 -105,-40 -100,-47 -92,-49.5 -80,-48 -68,-47 -66,-44 -70,-41 -76,-35 -80,-30 -82,-26 -90,-28 -97,-26Z" fill="#ff6040" clip-path="url(#lc)"/>
<path d="M-95,-38 -93,-45 -86,-48 -76,-48 -67,-47 -62,-45.5 -64,-43 -70,-41 -74,-38.5 -80,-36.5 -88,-36Z" fill="#ff2040"/>
<path d="M-130,-44 -129,-48.5 -125,-50.5 -120,-50 -117,-47 -118,-42 -121,-39 -125,-39.5Z" fill="#ff4d40"/>
<path d="M72,-22.5 72.5,-18 74,-14 76.5,-8 78.5,-8 80.5,-11 80.5,-15 83,-17.5 86.5,-20 87.5,-22.5 84,-24 78,-24.5 74,-24Z" fill="#ff4040" clip-path="url(#lc)"/>
<path d="M44,-26 45,-33 50,-34 54,-30 57,-26 54,-23 49,-23Z" fill="#ff6040" clip-path="url(#lc)"/>
<path d="M24,22 23,29 27,31.5 31,30 32.5,26 31.5,22 28,20Z" fill="#ffbe40" clip-path="url(#lc)"/>
<path d="M-50,3 -44,2 -35,5 -35,10 -39,17 -41,22 -45,24.5 -50,26.5 -52,22 -49,12Z" fill="#ffbe40" clip-path="url(#lc)"/>
<path d="M-80,-2 -78,-11 -70,-12.5 -60,-11 -55,-6 -60,0 -70,3Z" fill="#ffbe40" clip-path="url(#lc)"/>
<path d="M110,9 156,9 156,45 110,45Z" fill="#56ff40" clip-path="url(#lc)"/>
<path d="M42,11 51,11 51,26 42,26Z" fill="#56ff40" clip-path="url(#lc)"/>
<use href="#coast"/>
</svg>
<rect x="369.9" y="237.27" width="307.3" height="153.65" fill="none" stroke="#000" stroke-width="1.4"/>
<path d="M363.9,237.27H369.9M369.9,390.92V396.52M363.9,275.68H369.9M446.72,390.92V396.52M363.9,314.09H369.9M523.55,390.92V396.52M363.9,352.51H369.9M600.38,390.92V396.52M363.9,390.92H369.9M677.2,390.92V396.52" stroke="#000" stroke-width="1.2" fill="none"/>
<text x="359.6" y="240.17" class="ax" text-anchor="end">90°N</text>
<text x="359.6" y="278.58" class="ax" text-anchor="end">45°N</text>
<text x="359.6" y="316.99" class="ax" text-anchor="end">0°</text>
<text x="359.6" y="355.41" class="ax" text-anchor="end">45°S</text>
<text x="359.6" y="393.82" class="ax" text-anchor="end">90°S</text>
<text x="369.9" y="407.62" class="ax" text-anchor="middle">180°</text>
<text x="446.72" y="407.62" class="ax" text-anchor="middle">90°W</text>
<text x="523.55" y="407.62" class="ax" text-anchor="middle">0°</text>
<text x="600.38" y="407.62" class="ax" text-anchor="middle">90°E</text>
<text x="677.2" y="407.62" class="ax" text-anchor="middle">180°</text>
<rect x="373.8" y="367.12" width="75.16" height="20.2" fill="#fff" stroke="#000" stroke-width="1"/>
<text x="376.9" y="381.12" class="pl">(d) SSP3-7.0</text>
<rect x="362" y="409.52" width="25.1" height="11.1" fill="#003cff"/>
<rect x="386.8" y="409.52" width="25.1" height="11.1" fill="#0080ff"/>
<rect x="411.6" y="409.52" width="25.1" height="11.1" fill="#00a0ff"/>
<rect x="436.4" y="409.52" width="25.1" height="11.1" fill="#40c0ff"/>
<rect x="461.2" y="409.52" width="25.1" height="11.1" fill="#40e0ff"/>
<rect x="486" y="409.52" width="25.1" height="11.1" fill="#40ff40"/>
<rect x="510.8" y="409.52" width="25.1" height="11.1" fill="#80ff40"/>
<rect x="535.6" y="409.52" width="25.1" height="11.1" fill="#c0ff40"/>
<rect x="560.4" y="409.52" width="25.1" height="11.1" fill="#ffff40"/>
<rect x="585.2" y="409.52" width="25.1" height="11.1" fill="#ffdc40"/>
<rect x="610" y="409.52" width="25.1" height="11.1" fill="#ffa040"/>
<rect x="634.8" y="409.52" width="25.1" height="11.1" fill="#ff6040"/>
<rect x="659.6" y="409.52" width="24.8" height="11.1" fill="#ff2040"/>
<text x="386.8" y="432.32" class="cb" text-anchor="middle">530</text>
<text x="436.4" y="432.32" class="cb" text-anchor="middle">534</text>
<text x="486" y="432.32" class="cb" text-anchor="middle">538</text>
<text x="535.6" y="432.32" class="cb" text-anchor="middle">542</text>
<text x="585.2" y="432.32" class="cb" text-anchor="middle">546</text>
<text x="634.8" y="432.32" class="cb" text-anchor="middle">550</text>
<svg x="26.3" y="442.94" width="307.3" height="153.65" viewBox="-180 -90 360 180" preserveAspectRatio="none">
<rect x="-180" y="-90" width="360" height="31.68" fill="#ffdc40"/>
<rect x="-180" y="-58.37" width="360" height="5.91" fill="#ffa040"/>
<rect x="-180" y="-52.51" width="360" height="2.74" fill="#ffdc40"/>
<rect x="-180" y="-49.82" width="360" height="9.07" fill="#ffa040"/>
<rect x="-180" y="-40.8" width="360" height="12.94" fill="#ffdc40"/>
<rect x="-180" y="-27.91" width="360" height="2.74" fill="#c0ff40"/>
<rect x="-180" y="-25.22" width="360" height="5.32" fill="#ffff40"/>
<rect x="-180" y="-19.94" width="360" height="10.83" fill="#c0ff40"/>
<rect x="-180" y="-9.17" width="360" height="4.27" fill="#ffff40"/>
<rect x="-180" y="-4.95" width="360" height="13.29" fill="#c0ff40"/>
<rect x="-180" y="8.29" width="360" height="23.36" fill="#40ff40"/>
<rect x="-180" y="31.6" width="360" height="21.61" fill="#40e0ff"/>
<rect x="-180" y="53.16" width="360" height="6.38" fill="#40ff40"/>
<rect x="-180" y="59.48" width="360" height="2.28" fill="#40f0a0"/>
<rect x="-180" y="61.71" width="360" height="4.15" fill="#40ff40"/>
<rect x="-180" y="65.81" width="360" height="2.16" fill="#40e0ff"/>
<rect x="-180" y="67.92" width="360" height="22.13" fill="#40ff40"/>
<path d="M58,-24 66,-25.5 72,-23 80,-17 88,-22.5 94,-20 99,-14 97,-7 88,-5 80,-3 72,-6 64,-12 56,-18Z" fill="#ffff40"/>
<g clip-path="url(#shc)"><use href="#landp" fill="none" stroke="#ffff40" stroke-opacity="0.35" stroke-width="9" stroke-linejoin="round"/></g>
<g clip-path="url(#lc)">
<rect x="-180" y="-90" width="360" height="26" fill="#ffdc40"/>
<rect x="-180" y="-64" width="360" height="12" fill="#ffca40"/>
<rect x="-180" y="-52" width="360" height="12" fill="#ffa040"/>
<rect x="-180" y="-40" width="360" height="10" fill="#ffc440"/>
<rect x="-180" y="-30" width="360" height="3" fill="#ffdc40"/>
<rect x="-180" y="-27" width="360" height="7" fill="#fff440"/>
<rect x="-180" y="-20" width="360" height="15" fill="#d6ff40"/>
<rect x="-180" y="-5" width="360" height="15" fill="#d9ff40"/>
<rect x="-180" y="10" width="360" height="15" fill="#d9ff40"/>
<rect x="-180" y="25" width="360" height="10" fill="#a0ff40"/>
<rect x="-180" y="35" width="360" height="23" fill="#60ff40"/>
<rect x="-180" y="60" width="360" height="30" fill="#40e0ff"/>
</g>
<path d="M-75,-59 -10,-59 -10,-84 -75,-84Z" fill="#ffdc40" clip-path="url(#lc)"/>
<path d="M20,-51 20,-72 180,-72 180,-60 150,-56 135,-54 120,-52 90,-51 60,-51Z" fill="#ffbc40" clip-path="url(#lc)"/>
<path d="M28,-43 28,-51 60,-51 90,-51 125,-51 125,-45 100,-43 60,-43Z" fill="#ff8640" clip-path="url(#lc)"/>
<path d="M68,-23 70,-30 74,-33 80,-31 86,-28 90,-26.5 91,-24 88,-21.5 83,-19 79,-17 74,-18 71,-20Z" fill="#ff9340" clip-path="url(#lc)"/>
<path d="M35,-30 48,-30 56,-26 59,-22 52,-16 43,-13 39,-20 35,-27Z" fill="#ffe640" clip-path="url(#lc)"/>
<path d="M92,-22 100,-23 108,-23 110,-18 109,-11 105,-8 103,-1 98,-5 97,-16 92,-20Z" fill="#ffca40" clip-path="url(#lc)"/>
<path d="M-118,-33 -105,-32 -97,-28 -97,-20 -92,-18 -88,-21 -87,-15 -83,-10 -78,-8 -85,-13 -95,-15 -105,-19 -112,-24 -115,-30Z" fill="#fff440" clip-path="url(#lc)"/>
<path d="M-61,74.5 -55,73.3 -48,72.8 -40,72.6 -30,72.5 -20,71.8 -17,72.2 -22,73.5 -28,74.8 -34,75.9 -40,77 -46,77.9 -52,77.6 -58,77.2 -62,77Z" fill="#40c0ff"/>
<path d="M-180,72.5 -168,73 -160,74 -155,76.3 -158,77.6 -162,78.3 -170,78.6 -180,78.8Z" fill="#40c0ff"/>
<path d="M180,72.5 172,72 167,73.5 165.8,75.4 164,77 166,78.7 170,78.6 180,78.8Z" fill="#40c0ff"/>
<path d="M96,-24 98,-32 101,-38 105,-43 112,-47 120,-47 128,-45 135,-44 142,-41 143,-37 136,-33 128,-30 123,-25 118,-21 110,-20 104,-20 99,-21Z" fill="#ff7a40"/>
<path d="M104,-30 105,-37 107,-42 110,-46 116,-47 121,-44 124,-40 122,-37 121,-33 121.5,-30 119,-26 114,-24 109,-25 105,-27Z" fill="#ff2040"/>
<path d="M-15,-44 -15,-50 -8,-54 -5,-57 5,-58 15,-57 30,-56 45,-55 50,-50 45,-46 35,-45 25,-44 15,-43.5 5,-43 -5,-43Z" fill="#ff8040"/>
<path d="M-5,-50 -3,-54 0,-55 8,-55 18,-54.5 28,-54 36,-52 36,-48 28,-46.5 18,-45.5 10,-45 3,-45.5 -1,-46.5 -3,-48Z" fill="#ff3340"/>
<path d="M-106,-29 -105,-40 -100,-47 -92,-49.5 -80,-48 -68,-47 -66,-44 -70,-41 -76,-35 -80,-30 -82,-26 -90,-28 -97,-26Z" fill="#ffa040" clip-path="url(#lc)"/>
<path d="M-95,-38 -93,-45 -86,-48 -76,-48 -67,-47 -62,-45.5 -64,-43 -70,-41 -74,-38.5 -80,-36.5 -88,-36Z" fill="#ff6040"/>
<path d="M-130,-44 -129,-48.5 -125,-50.5 -120,-50 -117,-47 -118,-42 -121,-39 -125,-39.5Z" fill="#ff8d40"/>
<path d="M72,-22.5 72.5,-18 74,-14 76.5,-8 78.5,-8 80.5,-11 80.5,-15 83,-17.5 86.5,-20 87.5,-22.5 84,-24 78,-24.5 74,-24Z" fill="#ff6040" clip-path="url(#lc)"/>
<path d="M44,-26 45,-33 50,-34 54,-30 57,-26 54,-23 49,-23Z" fill="#ff8d40" clip-path="url(#lc)"/>
<path d="M24,22 23,29 27,31.5 31,30 32.5,26 31.5,22 28,20Z" fill="#ffee40" clip-path="url(#lc)"/>
<path d="M-50,3 -44,2 -35,5 -35,10 -39,17 -41,22 -45,24.5 -50,26.5 -52,22 -49,12Z" fill="#ffee40" clip-path="url(#lc)"/>
<path d="M-80,-2 -78,-11 -70,-12.5 -60,-11 -55,-6 -60,0 -70,3Z" fill="#ffee40" clip-path="url(#lc)"/>
<path d="M110,9 156,9 156,45 110,45Z" fill="#5aff40" clip-path="url(#lc)"/>
<path d="M42,11 51,11 51,26 42,26Z" fill="#5aff40" clip-path="url(#lc)"/>
<use href="#coast"/>
</svg>
<rect x="26.3" y="442.94" width="307.3" height="153.65" fill="none" stroke="#000" stroke-width="1.4"/>
<path d="M20.3,442.94H26.3M26.3,596.59V602.19M20.3,481.35H26.3M103.12,596.59V602.19M20.3,519.76H26.3M179.95,596.59V602.19M20.3,558.18H26.3M256.78,596.59V602.19M20.3,596.59H26.3M333.6,596.59V602.19" stroke="#000" stroke-width="1.2" fill="none"/>
<text x="16" y="445.84" class="ax" text-anchor="end">90°N</text>
<text x="16" y="484.25" class="ax" text-anchor="end">45°N</text>
<text x="16" y="522.66" class="ax" text-anchor="end">0°</text>
<text x="16" y="561.08" class="ax" text-anchor="end">45°S</text>
<text x="16" y="599.49" class="ax" text-anchor="end">90°S</text>
<text x="26.3" y="613.29" class="ax" text-anchor="middle">180°</text>
<text x="103.12" y="613.29" class="ax" text-anchor="middle">90°W</text>
<text x="179.95" y="613.29" class="ax" text-anchor="middle">0°</text>
<text x="256.78" y="613.29" class="ax" text-anchor="middle">90°E</text>
<text x="333.6" y="613.29" class="ax" text-anchor="middle">180°</text>
<rect x="30.2" y="572.79" width="75.16" height="20.2" fill="#fff" stroke="#000" stroke-width="1"/>
<text x="33.3" y="586.79" class="pl">(e) SSP4-3.4</text>
<rect x="19" y="615.19" width="25.1" height="11.1" fill="#003cff"/>
<rect x="43.8" y="615.19" width="25.1" height="11.1" fill="#0080ff"/>
<rect x="68.6" y="615.19" width="25.1" height="11.1" fill="#00a0ff"/>
<rect x="93.4" y="615.19" width="25.1" height="11.1" fill="#40c0ff"/>
<rect x="118.2" y="615.19" width="25.1" height="11.1" fill="#40e0ff"/>
<rect x="143" y="615.19" width="25.1" height="11.1" fill="#40ff40"/>
<rect x="167.8" y="615.19" width="25.1" height="11.1" fill="#80ff40"/>
<rect x="192.6" y="615.19" width="25.1" height="11.1" fill="#c0ff40"/>
<rect x="217.4" y="615.19" width="25.1" height="11.1" fill="#ffff40"/>
<rect x="242.2" y="615.19" width="25.1" height="11.1" fill="#ffdc40"/>
<rect x="267" y="615.19" width="25.1" height="11.1" fill="#ffa040"/>
<rect x="291.8" y="615.19" width="25.1" height="11.1" fill="#ff6040"/>
<rect x="316.6" y="615.19" width="24.8" height="11.1" fill="#ff2040"/>
<text x="43.8" y="637.99" class="cb" text-anchor="middle">460</text>
<text x="93.4" y="637.99" class="cb" text-anchor="middle">464</text>
<text x="143" y="637.99" class="cb" text-anchor="middle">468</text>
<text x="192.6" y="637.99" class="cb" text-anchor="middle">472</text>
<text x="242.2" y="637.99" class="cb" text-anchor="middle">476</text>
<text x="291.8" y="637.99" class="cb" text-anchor="middle">480</text>
<svg x="369.9" y="442.94" width="307.3" height="153.65" viewBox="-180 -90 360 180" preserveAspectRatio="none">
<rect x="-180" y="-90" width="360" height="28.99" fill="#ffff40"/>
<rect x="-180" y="-61.06" width="360" height="20.32" fill="#ffdc40"/>
<rect x="-180" y="-40.8" width="360" height="12.94" fill="#ffff40"/>
<rect x="-180" y="-27.91" width="360" height="2.74" fill="#c0ff40"/>
<rect x="-180" y="-25.22" width="360" height="3.21" fill="#e0ff40"/>
<rect x="-180" y="-22.05" width="360" height="29.81" fill="#c0ff40"/>
<rect x="-180" y="7.7" width="360" height="41.87" fill="#40ff40"/>
<rect x="-180" y="49.52" width="360" height="2.51" fill="#40e0ff"/>
<rect x="-180" y="51.99" width="360" height="38.06" fill="#40ff40"/>
<path d="M58,-24 66,-25.5 72,-23 80,-17 88,-22.5 94,-20 99,-14 97,-7 88,-5 80,-3 72,-6 64,-12 56,-18Z" fill="#e0ff40"/>
<g clip-path="url(#shc)"><use href="#landp" fill="none" stroke="#ffff40" stroke-opacity="0.3" stroke-width="9" stroke-linejoin="round"/></g>
<g clip-path="url(#lc)">
<rect x="-180" y="-90" width="360" height="26" fill="#ffff40"/>
<rect x="-180" y="-64" width="360" height="12" fill="#fff140"/>
<rect x="-180" y="-52" width="360" height="12" fill="#ffe640"/>
<rect x="-180" y="-40" width="360" height="10" fill="#ffee40"/>
<rect x="-180" y="-30" width="360" height="10" fill="#ffff40"/>
<rect x="-180" y="-20" width="360" height="15" fill="#d9ff40"/>
<rect x="-180" y="-5" width="360" height="15" fill="#d9ff40"/>
<rect x="-180" y="10" width="360" height="15" fill="#a6ff40"/>
<rect x="-180" y="25" width="360" height="10" fill="#60ff40"/>
<rect x="-180" y="35" width="360" height="55" fill="#40ff40"/>
</g>
<path d="M-75,-59 -10,-59 -10,-84 -75,-84Z" fill="#ffff40" clip-path="url(#lc)"/>
<path d="M20,-51 20,-72 180,-72 180,-60 150,-56 135,-54 120,-52 90,-51 60,-51Z" fill="#fff140" clip-path="url(#lc)"/>
<path d="M28,-43 28,-51 60,-51 90,-51 125,-51 125,-45 100,-43 60,-43Z" fill="#ffc440" clip-path="url(#lc)"/>
<path d="M68,-23 70,-30 74,-33 80,-31 86,-28 90,-26.5 91,-24 88,-21.5 83,-19 79,-17 74,-18 71,-20Z" fill="#ffca40" clip-path="url(#lc)"/>
<path d="M35,-30 48,-30 56,-26 59,-22 52,-16 43,-13 39,-20 35,-27Z" fill="#ffff40" clip-path="url(#lc)"/>
<path d="M92,-22 100,-23 108,-23 110,-18 109,-11 105,-8 103,-1 98,-5 97,-16 92,-20Z" fill="#fff140" clip-path="url(#lc)"/>
<path d="M-118,-33 -105,-32 -97,-28 -97,-20 -92,-18 -88,-21 -87,-15 -83,-10 -78,-8 -85,-13 -95,-15 -105,-19 -112,-24 -115,-30Z" fill="#ffff40" clip-path="url(#lc)"/>
<path d="M-180,90 -180,84.3 -170,84.1 -162,83.8 -158,83.1 -155,82.5 -150,82 -145,81.3 -140,80.7 -135,80.1 -130,79.8 -125,79.5 -120,79.5 -115,79.7 -110,80 -105,79.8 -100,79.1 -95,78.5 -88,78.1 -82,78.3 -76,76.5 -73,76 -70,74 -67,72.5 -64,70.7 -60,69.1 -56.5,68.4 -58.5,69.7 -62,71.3 -64,73.2 -61,76.5 -61.5,78 -64,80 -66.4,82.1 -62,82.5 -58,82.7 -52,83.1 -46,83.4 -40,82.5 -34,81.4 -28,80.3 -22,79 -17.3,77.7 -12,76.8 -6,76.3 0,76 6,75.7 12,75.5 18,75.5 24,75.3 30,75.1 35,74.7 40,74.3 45,73 50,72 54,71.3 58,72.3 62,72.9 66,73.3 69,73.8 70.7,74.7 73,75 75,74.5 78,74 82,72.8 86,72.3 90,72 95,71.8 100,71.5 103,71.3 107,71.8 110,71.9 115,72.3 120,72.3 125,71.9 130,71.7 135,71.5 140,72.1 143,72.5 147,73.5 152,74.1 156,74.7 160,75.5 163,76.1 167,76.5 170,77 171,77.8 168,79 166,80 165.8,80.9 164,82.5 163,84.5 166,84.2 170,84.1 175,84.1 180,84.3 180,90Z" fill="#40e0ff" clip-path="url(#lc)"/>
<path d="M-61,74.5 -55,73.3 -48,72.8 -40,72.6 -30,72.5 -20,71.8 -17,72.2 -22,73.5 -28,74.8 -34,75.9 -40,77 -46,77.9 -52,77.6 -58,77.2 -62,77Z" fill="#40d0ff"/>
<path d="M-180,72.5 -168,73 -160,74 -155,76.3 -158,77.6 -162,78.3 -170,78.6 -180,78.8Z" fill="#40d0ff"/>
<path d="M180,72.5 172,72 167,73.5 165.8,75.4 164,77 166,78.7 170,78.6 180,78.8Z" fill="#40d0ff"/>
<path d="M96,-24 98,-32 101,-38 105,-43 112,-47 120,-47 128,-45 135,-44 142,-41 143,-37 136,-33 128,-30 123,-25 118,-21 110,-20 104,-20 99,-21Z" fill="#ffc440"/>
<path d="M104,-30 105,-37 107,-42 110,-46 116,-47 121,-44 124,-40 122,-37 121,-33 121.5,-30 119,-26 114,-24 109,-25 105,-27Z" fill="#ff8640"/>
<path d="M-15,-44 -15,-50 -8,-54 -5,-57 5,-58 15,-57 30,-56 45,-55 50,-50 45,-46 35,-45 25,-44 15,-43.5 5,-43 -5,-43Z" fill="#ffbe40"/>
<path d="M-5,-50 -3,-54 0,-55 8,-55 18,-54.5 28,-54 36,-52 36,-48 28,-46.5 18,-45.5 10,-45 3,-45.5 -1,-46.5 -3,-48Z" fill="#ff8640"/>
<path d="M-106,-29 -105,-40 -100,-47 -92,-49.5 -80,-48 -68,-47 -66,-44 -70,-41 -76,-35 -80,-30 -82,-26 -90,-28 -97,-26Z" fill="#ffdc40" clip-path="url(#lc)"/>
<path d="M-95,-38 -93,-45 -86,-48 -76,-48 -67,-47 -62,-45.5 -64,-43 -70,-41 -74,-38.5 -80,-36.5 -88,-36Z" fill="#ffb840"/>
<path d="M-130,-44 -129,-48.5 -125,-50.5 -120,-50 -117,-47 -118,-42 -121,-39 -125,-39.5Z" fill="#ffd040"/>
<path d="M72,-22.5 72.5,-18 74,-14 76.5,-8 78.5,-8 80.5,-11 80.5,-15 83,-17.5 86.5,-20 87.5,-22.5 84,-24 78,-24.5 74,-24Z" fill="#ffdc40" clip-path="url(#lc)"/>
<path d="M44,-26 45,-33 50,-34 54,-30 57,-26 54,-23 49,-23Z" fill="#ffdc40" clip-path="url(#lc)"/>
<path d="M24,22 23,29 27,31.5 31,30 32.5,26 31.5,22 28,20Z" fill="#ffee40" clip-path="url(#lc)"/>
<path d="M-50,3 -44,2 -35,5 -35,10 -39,17 -41,22 -45,24.5 -50,26.5 -52,22 -49,12Z" fill="#ffff40" clip-path="url(#lc)"/>
<path d="M-80,-2 -78,-11 -70,-12.5 -60,-11 -55,-6 -60,0 -70,3Z" fill="#ffee40" clip-path="url(#lc)"/>
<path d="M110,9 156,9 156,45 110,45Z" fill="#53ff40" clip-path="url(#lc)"/>
<path d="M42,11 51,11 51,26 42,26Z" fill="#53ff40" clip-path="url(#lc)"/>
<use href="#coast"/>
</svg>
<rect x="369.9" y="442.94" width="307.3" height="153.65" fill="none" stroke="#000" stroke-width="1.4"/>
<path d="M363.9,442.94H369.9M369.9,596.59V602.19M363.9,481.35H369.9M446.72,596.59V602.19M363.9,519.76H369.9M523.55,596.59V602.19M363.9,558.18H369.9M600.38,596.59V602.19M363.9,596.59H369.9M677.2,596.59V602.19" stroke="#000" stroke-width="1.2" fill="none"/>
<text x="359.6" y="445.84" class="ax" text-anchor="end">90°N</text>
<text x="359.6" y="484.25" class="ax" text-anchor="end">45°N</text>
<text x="359.6" y="522.66" class="ax" text-anchor="end">0°</text>
<text x="359.6" y="561.08" class="ax" text-anchor="end">45°S</text>
<text x="359.6" y="599.49" class="ax" text-anchor="end">90°S</text>
<text x="369.9" y="613.29" class="ax" text-anchor="middle">180°</text>
<text x="446.72" y="613.29" class="ax" text-anchor="middle">90°W</text>
<text x="523.55" y="613.29" class="ax" text-anchor="middle">0°</text>
<text x="600.38" y="613.29" class="ax" text-anchor="middle">90°E</text>
<text x="677.2" y="613.29" class="ax" text-anchor="middle">180°</text>
<rect x="373.8" y="572.79" width="71.82" height="20.2" fill="#fff" stroke="#000" stroke-width="1"/>
<text x="376.9" y="586.79" class="pl">(f) SSP4-6.0</text>
<rect x="362" y="615.19" width="25.1" height="11.1" fill="#003cff"/>
<rect x="386.8" y="615.19" width="25.1" height="11.1" fill="#0080ff"/>
<rect x="411.6" y="615.19" width="25.1" height="11.1" fill="#00a0ff"/>
<rect x="436.4" y="615.19" width="25.1" height="11.1" fill="#40c0ff"/>
<rect x="461.2" y="615.19" width="25.1" height="11.1" fill="#40e0ff"/>
<rect x="486" y="615.19" width="25.1" height="11.1" fill="#40ff40"/>
<rect x="510.8" y="615.19" width="25.1" height="11.1" fill="#80ff40"/>
<rect x="535.6" y="615.19" width="25.1" height="11.1" fill="#c0ff40"/>
<rect x="560.4" y="615.19" width="25.1" height="11.1" fill="#ffff40"/>
<rect x="585.2" y="615.19" width="25.1" height="11.1" fill="#ffdc40"/>
<rect x="610" y="615.19" width="25.1" height="11.1" fill="#ffa040"/>
<rect x="634.8" y="615.19" width="25.1" height="11.1" fill="#ff6040"/>
<rect x="659.6" y="615.19" width="24.8" height="11.1" fill="#ff2040"/>
<text x="386.8" y="637.99" class="cb" text-anchor="middle">499</text>
<text x="436.4" y="637.99" class="cb" text-anchor="middle">505</text>
<text x="486" y="637.99" class="cb" text-anchor="middle">511</text>
<text x="535.6" y="637.99" class="cb" text-anchor="middle">517</text>
<text x="585.2" y="637.99" class="cb" text-anchor="middle">523</text>
<text x="634.8" y="637.99" class="cb" text-anchor="middle">529</text>
<svg x="26.3" y="648.61" width="307.3" height="153.65" viewBox="-180 -90 360 180" preserveAspectRatio="none">
<rect x="-180" y="-90" width="360" height="6.84" fill="#ff6040"/>
<rect x="-180" y="-83.21" width="360" height="2.16" fill="#ff4040"/>
<rect x="-180" y="-81.1" width="360" height="4.38" fill="#ff6040"/>
<rect x="-180" y="-76.76" width="360" height="36.37" fill="#ff2040"/>
<rect x="-180" y="-40.45" width="360" height="12.94" fill="#ff6040"/>
<rect x="-180" y="-27.56" width="360" height="2.16" fill="#ffa040"/>
<rect x="-180" y="-25.45" width="360" height="3.21" fill="#ff8040"/>
<rect x="-180" y="-22.29" width="360" height="2.74" fill="#ffa040"/>
<rect x="-180" y="-19.59" width="360" height="11.06" fill="#ffdc40"/>
<rect x="-180" y="-8.58" width="360" height="5.32" fill="#ffa040"/>
<rect x="-180" y="-3.31" width="360" height="11.41" fill="#ffdc40"/>
<rect x="-180" y="8.05" width="360" height="8.48" fill="#c0ff40"/>
<rect x="-180" y="16.49" width="360" height="4.74" fill="#a0ff40"/>
<rect x="-180" y="21.17" width="360" height="9.66" fill="#c0ff40"/>
<rect x="-180" y="30.78" width="360" height="13.76" fill="#80ff40"/>
<rect x="-180" y="44.49" width="360" height="4.27" fill="#6dff40"/>
<rect x="-180" y="48.7" width="360" height="2.39" fill="#40ff40"/>
<rect x="-180" y="51.05" width="360" height="39" fill="#80ff40"/>
<path d="M-98,-30 -84,-30.5 -81,-26 -80,-22 -86,-19 -95,-18 -98,-21Z" fill="#ff6040"/>
<path d="M-88,-21 -80,-22 -72,-20 -62,-18 -60,-11 -75,-10 -84,-9 -88,-14Z" fill="#ffa040"/>
<path d="M58,-24 66,-25.5 72,-23 80,-17 88,-22.5 94,-20 99,-14 97,-7 88,-5 80,-3 72,-6 64,-12 56,-18Z" fill="#ffa040"/>
<g clip-path="url(#shc)"><use href="#landp" fill="none" stroke="#ffff40" stroke-opacity="0.35" stroke-width="9" stroke-linejoin="round"/></g>
<g clip-path="url(#lc)">
<rect x="-180" y="-90" width="360" height="18" fill="#ff6040"/>
<rect x="-180" y="-72" width="360" height="20" fill="#ff2d40"/>
<rect x="-180" y="-52" width="360" height="17" fill="#ff2040"/>
<rect x="-180" y="-35" width="360" height="5" fill="#ff4040"/>
<rect x="-180" y="-30" width="360" height="10" fill="#ffca40"/>
<rect x="-180" y="-20" width="360" height="15" fill="#ffd040"/>
<rect x="-180" y="-5" width="360" height="15" fill="#ffea40"/>
<rect x="-180" y="10" width="360" height="15" fill="#fff140"/>
<rect x="-180" y="25" width="360" height="10" fill="#e0ff40"/>
<rect x="-180" y="35" width="360" height="25" fill="#a0ff40"/>
<rect x="-180" y="60" width="360" height="30" fill="#40ff40"/>
</g>
<path d="M-75,-59 -10,-59 -10,-84 -75,-84Z" fill="#ff4d40" clip-path="url(#lc)"/>
<path d="M20,-51 20,-72 180,-72 180,-60 150,-56 135,-54 120,-52 90,-51 60,-51Z" fill="#ff5a40" clip-path="url(#lc)"/>
<path d="M28,-43 28,-51 60,-51 90,-51 125,-51 125,-45 100,-43 60,-43Z" fill="#ff2040" clip-path="url(#lc)"/>
<path d="M68,-23 70,-30 74,-33 80,-31 86,-28 90,-26.5 91,-24 88,-21.5 83,-19 79,-17 74,-18 71,-20Z" fill="#ff3340" clip-path="url(#lc)"/>
<path d="M35,-30 48,-30 56,-26 59,-22 52,-16 43,-13 39,-20 35,-27Z" fill="#ff8640" clip-path="url(#lc)"/>
<path d="M92,-22 100,-23 108,-23 110,-18 109,-11 105,-8 103,-1 98,-5 97,-16 92,-20Z" fill="#ff8040" clip-path="url(#lc)"/>
<path d="M-118,-33 -105,-32 -97,-28 -97,-20 -92,-18 -88,-21 -87,-15 -83,-10 -78,-8 -85,-13 -95,-15 -105,-19 -112,-24 -115,-30Z" fill="#ff8640" clip-path="url(#lc)"/>
<path d="M-61,74.5 -55,73.3 -48,72.8 -40,72.6 -30,72.5 -20,71.8 -17,72.2 -22,73.5 -28,74.8 -34,75.9 -40,77 -46,77.9 -52,77.6 -58,77.2 -62,77Z" fill="#40d0ff"/>
<path d="M-180,72.5 -168,73 -160,74 -155,76.3 -158,77.6 -162,78.3 -170,78.6 -180,78.8Z" fill="#40d0ff"/>
<path d="M180,72.5 172,72 167,73.5 165.8,75.4 164,77 166,78.7 170,78.6 180,78.8Z" fill="#40d0ff"/>
<path d="M96,-24 98,-32 101,-38 105,-43 112,-47 120,-47 128,-45 135,-44 142,-41 143,-37 136,-33 128,-30 123,-25 118,-21 110,-20 104,-20 99,-21Z" fill="#ff2040"/>
<path d="M104,-30 105,-37 107,-42 110,-46 116,-47 121,-44 124,-40 122,-37 121,-33 121.5,-30 119,-26 114,-24 109,-25 105,-27Z" fill="#ff2040"/>
<path d="M-15,-44 -15,-50 -8,-54 -5,-57 5,-58 15,-57 30,-56 45,-55 50,-50 45,-46 35,-45 25,-44 15,-43.5 5,-43 -5,-43Z" fill="#ff2040"/>
<path d="M-5,-50 -3,-54 0,-55 8,-55 18,-54.5 28,-54 36,-52 36,-48 28,-46.5 18,-45.5 10,-45 3,-45.5 -1,-46.5 -3,-48Z" fill="#ff2040"/>
<path d="M-106,-29 -105,-40 -100,-47 -92,-49.5 -80,-48 -68,-47 -66,-44 -70,-41 -76,-35 -80,-30 -82,-26 -90,-28 -97,-26Z" fill="#ff2040" clip-path="url(#lc)"/>
<path d="M-95,-38 -93,-45 -86,-48 -76,-48 -67,-47 -62,-45.5 -64,-43 -70,-41 -74,-38.5 -80,-36.5 -88,-36Z" fill="#ff2040"/>
<path d="M-130,-44 -129,-48.5 -125,-50.5 -120,-50 -117,-47 -118,-42 -121,-39 -125,-39.5Z" fill="#ff2040"/>
<path d="M72,-22.5 72.5,-18 74,-14 76.5,-8 78.5,-8 80.5,-11 80.5,-15 83,-17.5 86.5,-20 87.5,-22.5 84,-24 78,-24.5 74,-24Z" fill="#ff2040" clip-path="url(#lc)"/>
<path d="M44,-26 45,-33 50,-34 54,-30 57,-26 54,-23 49,-23Z" fill="#ff4040" clip-path="url(#lc)"/>
<path d="M24,22 23,29 27,31.5 31,30 32.5,26 31.5,22 28,20Z" fill="#ff8d40" clip-path="url(#lc)"/>
<path d="M-50,3 -44,2 -35,5 -35,10 -39,17 -41,22 -45,24.5 -50,26.5 -52,22 -49,12Z" fill="#ff8d40" clip-path="url(#lc)"/>
<path d="M-80,-2 -78,-11 -70,-12.5 -60,-11 -55,-6 -60,0 -70,3Z" fill="#ff8040" clip-path="url(#lc)"/>
<path d="M110,9 156,9 156,45 110,45Z" fill="#9aff40" clip-path="url(#lc)"/>
<path d="M42,11 51,11 51,26 42,26Z" fill="#9aff40" clip-path="url(#lc)"/>
<use href="#coast"/>
</svg>
<rect x="26.3" y="648.61" width="307.3" height="153.65" fill="none" stroke="#000" stroke-width="1.4"/>
<path d="M20.3,648.61H26.3M26.3,802.26V807.86M20.3,687.02H26.3M103.12,802.26V807.86M20.3,725.44H26.3M179.95,802.26V807.86M20.3,763.85H26.3M256.78,802.26V807.86M20.3,802.26H26.3M333.6,802.26V807.86" stroke="#000" stroke-width="1.2" fill="none"/>
<text x="16" y="651.51" class="ax" text-anchor="end">90°N</text>
<text x="16" y="689.92" class="ax" text-anchor="end">45°N</text>
<text x="16" y="728.34" class="ax" text-anchor="end">0°</text>
<text x="16" y="766.75" class="ax" text-anchor="end">45°S</text>
<text x="16" y="805.16" class="ax" text-anchor="end">90°S</text>
<text x="26.3" y="818.96" class="ax" text-anchor="middle">180°</text>
<text x="103.12" y="818.96" class="ax" text-anchor="middle">90°W</text>
<text x="179.95" y="818.96" class="ax" text-anchor="middle">0°</text>
<text x="256.78" y="818.96" class="ax" text-anchor="middle">90°E</text>
<text x="333.6" y="818.96" class="ax" text-anchor="middle">180°</text>
<rect x="30.2" y="778.46" width="75.16" height="20.2" fill="#fff" stroke="#000" stroke-width="1"/>
<text x="33.3" y="792.46" class="pl">(g) SSP5-3.4</text>
<rect x="19" y="820.86" width="25.1" height="11.1" fill="#003cff"/>
<rect x="43.8" y="820.86" width="25.1" height="11.1" fill="#0080ff"/>
<rect x="68.6" y="820.86" width="25.1" height="11.1" fill="#00a0ff"/>
<rect x="93.4" y="820.86" width="25.1" height="11.1" fill="#40c0ff"/>
<rect x="118.2" y="820.86" width="25.1" height="11.1" fill="#40e0ff"/>
<rect x="143" y="820.86" width="25.1" height="11.1" fill="#40ff40"/>
<rect x="167.8" y="820.86" width="25.1" height="11.1" fill="#80ff40"/>
<rect x="192.6" y="820.86" width="25.1" height="11.1" fill="#c0ff40"/>
<rect x="217.4" y="820.86" width="25.1" height="11.1" fill="#ffff40"/>
<rect x="242.2" y="820.86" width="25.1" height="11.1" fill="#ffdc40"/>
<rect x="267" y="820.86" width="25.1" height="11.1" fill="#ffa040"/>
<rect x="291.8" y="820.86" width="25.1" height="11.1" fill="#ff6040"/>
<rect x="316.6" y="820.86" width="24.8" height="11.1" fill="#ff2040"/>
<text x="43.8" y="843.66" class="cb" text-anchor="middle">530</text>
<text x="93.4" y="843.66" class="cb" text-anchor="middle">534</text>
<text x="143" y="843.66" class="cb" text-anchor="middle">538</text>
<text x="192.6" y="843.66" class="cb" text-anchor="middle">542</text>
<text x="242.2" y="843.66" class="cb" text-anchor="middle">546</text>
<text x="291.8" y="843.66" class="cb" text-anchor="middle">550</text>
<svg x="369.9" y="648.61" width="307.3" height="153.65" viewBox="-180 -90 360 180" preserveAspectRatio="none">
<rect x="-180" y="-90" width="360" height="33.09" fill="#ff6040"/>
<rect x="-180" y="-56.96" width="360" height="3.21" fill="#ff2040"/>
<rect x="-180" y="-53.8" width="360" height="3.8" fill="#ff6040"/>
<rect x="-180" y="-50.05" width="360" height="9.19" fill="#ff2040"/>
<rect x="-180" y="-40.91" width="360" height="2.63" fill="#ff6040"/>
<rect x="-180" y="-38.34" width="360" height="3.8" fill="#ff8040"/>
<rect x="-180" y="-34.59" width="360" height="2.28" fill="#ff6040"/>
<rect x="-180" y="-32.36" width="360" height="4.85" fill="#ffa040"/>
<rect x="-180" y="-27.56" width="360" height="2.74" fill="#ffdc40"/>
<rect x="-180" y="-24.86" width="360" height="2.74" fill="#ffbe40"/>
<rect x="-180" y="-22.17" width="360" height="5.32" fill="#ffdc40"/>
<rect x="-180" y="-16.9" width="360" height="6.49" fill="#ffff40"/>
<rect x="-180" y="-10.46" width="360" height="12" fill="#ffdc40"/>
<rect x="-180" y="1.49" width="360" height="6.61" fill="#ffff40"/>
<rect x="-180" y="8.05" width="360" height="22.78" fill="#80ff40"/>
<rect x="-180" y="30.78" width="360" height="19.15" fill="#40ff40"/>
<rect x="-180" y="49.88" width="360" height="1.46" fill="#40e0ff"/>
<rect x="-180" y="51.28" width="360" height="38.77" fill="#40ff40"/>
<path d="M-98,-30 -84,-30.5 -81,-26 -80,-22 -86,-19 -95,-18 -98,-21Z" fill="#ffa040"/>
<path d="M-88,-21 -80,-22 -72,-20 -62,-18 -60,-11 -75,-10 -84,-9 -88,-14Z" fill="#ffbe40"/>
<path d="M58,-24 66,-25.5 72,-23 80,-17 88,-22.5 94,-20 99,-14 97,-7 88,-5 80,-3 72,-6 64,-12 56,-18Z" fill="#ffbe40"/>
<g clip-path="url(#shc)"><use href="#landp" fill="none" stroke="#ffff40" stroke-opacity="0.3" stroke-width="9" stroke-linejoin="round"/></g>
<g clip-path="url(#lc)">
<rect x="-180" y="-90" width="360" height="26" fill="#ff6040"/>
<rect x="-180" y="-64" width="360" height="12" fill="#ff4640"/>
<rect x="-180" y="-52" width="360" height="17" fill="#ff2040"/>
<rect x="-180" y="-35" width="360" height="5" fill="#ff4040"/>
<rect x="-180" y="-30" width="360" height="10" fill="#ffca40"/>
<rect x="-180" y="-20" width="360" height="15" fill="#ffe640"/>
<rect x="-180" y="-5" width="360" height="15" fill="#fff140"/>
<rect x="-180" y="10" width="360" height="15" fill="#e6ff40"/>
<rect x="-180" y="25" width="360" height="10" fill="#a0ff40"/>
<rect x="-180" y="35" width="360" height="25" fill="#66ff40"/>
<rect x="-180" y="60" width="360" height="30" fill="#40ff40"/>
</g>
<path d="M-75,-59 -10,-59 -10,-84 -75,-84Z" fill="#ff7340" clip-path="url(#lc)"/>
<path d="M20,-51 20,-72 180,-72 180,-60 150,-56 135,-54 120,-52 90,-51 60,-51Z" fill="#ff7c40" clip-path="url(#lc)"/>
<path d="M28,-43 28,-51 60,-51 90,-51 125,-51 125,-45 100,-43 60,-43Z" fill="#ff4040" clip-path="url(#lc)"/>
<path d="M68,-23 70,-30 74,-33 80,-31 86,-28 90,-26.5 91,-24 88,-21.5 83,-19 79,-17 74,-18 71,-20Z" fill="#ff3a40" clip-path="url(#lc)"/>
<path d="M35,-30 48,-30 56,-26 59,-22 52,-16 43,-13 39,-20 35,-27Z" fill="#ffac40" clip-path="url(#lc)"/>
<path d="M92,-22 100,-23 108,-23 110,-18 109,-11 105,-8 103,-1 98,-5 97,-16 92,-20Z" fill="#ff8640" clip-path="url(#lc)"/>
<path d="M-118,-33 -105,-32 -97,-28 -97,-20 -92,-18 -88,-21 -87,-15 -83,-10 -78,-8 -85,-13 -95,-15 -105,-19 -112,-24 -115,-30Z" fill="#ffb240" clip-path="url(#lc)"/>
<path d="M-180,90 -180,84.3 -170,84.1 -162,83.8 -158,83.1 -155,82.5 -150,82 -145,81.3 -140,80.7 -135,80.1 -130,79.8 -125,79.5 -120,79.5 -115,79.7 -110,80 -105,79.8 -100,79.1 -95,78.5 -88,78.1 -82,78.3 -76,76.5 -73,76 -70,74 -67,72.5 -64,70.7 -60,69.1 -56.5,68.4 -58.5,69.7 -62,71.3 -64,73.2 -61,76.5 -61.5,78 -64,80 -66.4,82.1 -62,82.5 -58,82.7 -52,83.1 -46,83.4 -40,82.5 -34,81.4 -28,80.3 -22,79 -17.3,77.7 -12,76.8 -6,76.3 0,76 6,75.7 12,75.5 18,75.5 24,75.3 30,75.1 35,74.7 40,74.3 45,73 50,72 54,71.3 58,72.3 62,72.9 66,73.3 69,73.8 70.7,74.7 73,75 75,74.5 78,74 82,72.8 86,72.3 90,72 95,71.8 100,71.5 103,71.3 107,71.8 110,71.9 115,72.3 120,72.3 125,71.9 130,71.7 135,71.5 140,72.1 143,72.5 147,73.5 152,74.1 156,74.7 160,75.5 163,76.1 167,76.5 170,77 171,77.8 168,79 166,80 165.8,80.9 164,82.5 163,84.5 166,84.2 170,84.1 175,84.1 180,84.3 180,90Z" fill="#40e0ff" clip-path="url(#lc)"/>
<path d="M-61,74.5 -55,73.3 -48,72.8 -40,72.6 -30,72.5 -20,71.8 -17,72.2 -22,73.5 -28,74.8 -34,75.9 -40,77 -46,77.9 -52,77.6 -58,77.2 -62,77Z" fill="#40d0ff"/>
<path d="M-180,72.5 -168,73 -160,74 -155,76.3 -158,77.6 -162,78.3 -170,78.6 -180,78.8Z" fill="#40d0ff"/>
<path d="M180,72.5 172,72 167,73.5 165.8,75.4 164,77 166,78.7 170,78.6 180,78.8Z" fill="#40d0ff"/>
<path d="M96,-24 98,-32 101,-38 105,-43 112,-47 120,-47 128,-45 135,-44 142,-41 143,-37 136,-33 128,-30 123,-25 118,-21 110,-20 104,-20 99,-21Z" fill="#ff2040"/>
<path d="M104,-30 105,-37 107,-42 110,-46 116,-47 121,-44 124,-40 122,-37 121,-33 121.5,-30 119,-26 114,-24 109,-25 105,-27Z" fill="#ff2040"/>
<path d="M-15,-44 -15,-50 -8,-54 -5,-57 5,-58 15,-57 30,-56 45,-55 50,-50 45,-46 35,-45 25,-44 15,-43.5 5,-43 -5,-43Z" fill="#ff2040"/>
<path d="M-5,-50 -3,-54 0,-55 8,-55 18,-54.5 28,-54 36,-52 36,-48 28,-46.5 18,-45.5 10,-45 3,-45.5 -1,-46.5 -3,-48Z" fill="#ff2040"/>
<path d="M-106,-29 -105,-40 -100,-47 -92,-49.5 -80,-48 -68,-47 -66,-44 -70,-41 -76,-35 -80,-30 -82,-26 -90,-28 -97,-26Z" fill="#ff3a40" clip-path="url(#lc)"/>
<path d="M-95,-38 -93,-45 -86,-48 -76,-48 -67,-47 -62,-45.5 -64,-43 -70,-41 -74,-38.5 -80,-36.5 -88,-36Z" fill="#ff2040"/>
<path d="M-130,-44 -129,-48.5 -125,-50.5 -120,-50 -117,-47 -118,-42 -121,-39 -125,-39.5Z" fill="#ff2040"/>
<path d="M72,-22.5 72.5,-18 74,-14 76.5,-8 78.5,-8 80.5,-11 80.5,-15 83,-17.5 86.5,-20 87.5,-22.5 84,-24 78,-24.5 74,-24Z" fill="#ff2040" clip-path="url(#lc)"/>
<path d="M44,-26 45,-33 50,-34 54,-30 57,-26 54,-23 49,-23Z" fill="#ff4040" clip-path="url(#lc)"/>
<path d="M24,22 23,29 27,31.5 31,30 32.5,26 31.5,22 28,20Z" fill="#ffb840" clip-path="url(#lc)"/>
<path d="M-50,3 -44,2 -35,5 -35,10 -39,17 -41,22 -45,24.5 -50,26.5 -52,22 -49,12Z" fill="#ffb840" clip-path="url(#lc)"/>
<path d="M-80,-2 -78,-11 -70,-12.5 -60,-11 -55,-6 -60,0 -70,3Z" fill="#ff8040" clip-path="url(#lc)"/>
<path d="M110,9 156,9 156,45 110,45Z" fill="#5aff40" clip-path="url(#lc)"/>
<path d="M42,11 51,11 51,26 42,26Z" fill="#5aff40" clip-path="url(#lc)"/>
<path d="M-105,-90 -15,-90 -15,-78 -40,-76.5 -70,-77 -105,-78.5Z" fill="#ffb540"/>
<path d="M8,-89 42,-89 42,-81 8,-81Z" fill="#ff8d40"/>
<path d="M84,-89 115,-89 115,-80 84,-80Z" fill="#ff8d40"/>
<use href="#coast"/>
</svg>
<rect x="369.9" y="648.61" width="307.3" height="153.65" fill="none" stroke="#000" stroke-width="1.4"/>
<path d="M363.9,648.61H369.9M369.9,802.26V807.86M363.9,687.02H369.9M446.72,802.26V807.86M363.9,725.44H369.9M523.55,802.26V807.86M363.9,763.85H369.9M600.38,802.26V807.86M363.9,802.26H369.9M677.2,802.26V807.86" stroke="#000" stroke-width="1.2" fill="none"/>
<text x="359.6" y="651.51" class="ax" text-anchor="end">90°N</text>
<text x="359.6" y="689.92" class="ax" text-anchor="end">45°N</text>
<text x="359.6" y="728.34" class="ax" text-anchor="end">0°</text>
<text x="359.6" y="766.75" class="ax" text-anchor="end">45°S</text>
<text x="359.6" y="805.16" class="ax" text-anchor="end">90°S</text>
<text x="369.9" y="818.96" class="ax" text-anchor="middle">180°</text>
<text x="446.72" y="818.96" class="ax" text-anchor="middle">90°W</text>
<text x="523.55" y="818.96" class="ax" text-anchor="middle">0°</text>
<text x="600.38" y="818.96" class="ax" text-anchor="middle">90°E</text>
<text x="677.2" y="818.96" class="ax" text-anchor="middle">180°</text>
<rect x="373.8" y="778.46" width="75.16" height="20.2" fill="#fff" stroke="#000" stroke-width="1"/>
<text x="376.9" y="792.46" class="pl">(h) SSP5-8.5</text>
<rect x="362" y="820.86" width="25.1" height="11.1" fill="#003cff"/>
<rect x="386.8" y="820.86" width="25.1" height="11.1" fill="#0080ff"/>
<rect x="411.6" y="820.86" width="25.1" height="11.1" fill="#00a0ff"/>
<rect x="436.4" y="820.86" width="25.1" height="11.1" fill="#40c0ff"/>
<rect x="461.2" y="820.86" width="25.1" height="11.1" fill="#40e0ff"/>
<rect x="486" y="820.86" width="25.1" height="11.1" fill="#40ff40"/>
<rect x="510.8" y="820.86" width="25.1" height="11.1" fill="#80ff40"/>
<rect x="535.6" y="820.86" width="25.1" height="11.1" fill="#c0ff40"/>
<rect x="560.4" y="820.86" width="25.1" height="11.1" fill="#ffff40"/>
<rect x="585.2" y="820.86" width="25.1" height="11.1" fill="#ffdc40"/>
<rect x="610" y="820.86" width="25.1" height="11.1" fill="#ffa040"/>
<rect x="634.8" y="820.86" width="25.1" height="11.1" fill="#ff6040"/>
<rect x="659.6" y="820.86" width="24.8" height="11.1" fill="#ff2040"/>
<text x="386.8" y="843.66" class="cb" text-anchor="middle">554</text>
<text x="436.4" y="843.66" class="cb" text-anchor="middle">558</text>
<text x="486" y="843.66" class="cb" text-anchor="middle">562</text>
<text x="535.6" y="843.66" class="cb" text-anchor="middle">566</text>
<text x="585.2" y="843.66" class="cb" text-anchor="middle">570</text>
<text x="634.8" y="843.66" class="cb" text-anchor="middle">574</text>
</svg>
</body></html>
